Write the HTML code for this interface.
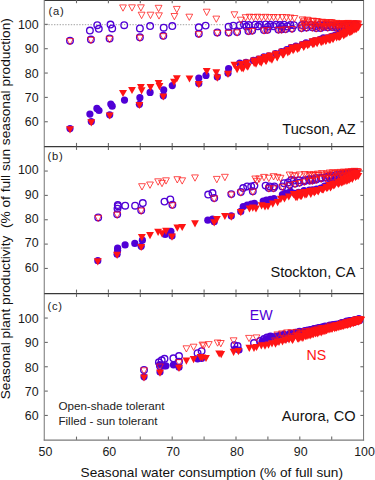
<!DOCTYPE html><html><head><meta charset="utf-8"><style>html,body{margin:0;padding:0;background:#fff;overflow:hidden}svg{display:block}text{font-family:"Liberation Sans",sans-serif}</style></head><body>
<svg width="375" height="480" viewBox="0 0 375 480">
<line x1="44.25" y1="0" x2="44.25" y2="440.5" stroke="#7a7a7a" stroke-width="1.05"/>
<line x1="363.55" y1="0" x2="363.55" y2="440.6" stroke="#7a7a7a" stroke-width="1.05"/>
<line x1="43.75" y1="440.1" x2="364.1" y2="440.1" stroke="#7a7a7a" stroke-width="1.05"/>
<line x1="44.6" y1="0.4" x2="363.6" y2="0.4" stroke="#3a3a3a" stroke-width="1.2"/>
<line x1="44.25" y1="146.7" x2="363.6" y2="146.7" stroke="#383838" stroke-width="1.3"/>
<line x1="44.25" y1="293.7" x2="363.6" y2="293.7" stroke="#383838" stroke-width="1.3"/>
<line x1="45.6" y1="24.6" x2="363.6" y2="24.6" stroke="#b4b4b4" stroke-width="1.1" stroke-dasharray="1.4,1.4"/>
<line x1="44.6" y1="121.75" x2="47.800000000000004" y2="121.75" stroke="#6a6a6a" stroke-width="1.1"/>
<line x1="360.40000000000003" y1="121.75" x2="363.6" y2="121.75" stroke="#6a6a6a" stroke-width="1.1"/>
<text x="38.6" y="126.3" font-size="12.4" fill="#1a1a1a" text-anchor="end">60</text>
<line x1="44.6" y1="97.4" x2="47.800000000000004" y2="97.4" stroke="#6a6a6a" stroke-width="1.1"/>
<line x1="360.40000000000003" y1="97.4" x2="363.6" y2="97.4" stroke="#6a6a6a" stroke-width="1.1"/>
<text x="38.6" y="101.95" font-size="12.4" fill="#1a1a1a" text-anchor="end">70</text>
<line x1="44.6" y1="73.05" x2="47.800000000000004" y2="73.05" stroke="#6a6a6a" stroke-width="1.1"/>
<line x1="360.40000000000003" y1="73.05" x2="363.6" y2="73.05" stroke="#6a6a6a" stroke-width="1.1"/>
<text x="38.6" y="77.6" font-size="12.4" fill="#1a1a1a" text-anchor="end">80</text>
<line x1="44.6" y1="48.7" x2="47.800000000000004" y2="48.7" stroke="#6a6a6a" stroke-width="1.1"/>
<line x1="360.40000000000003" y1="48.7" x2="363.6" y2="48.7" stroke="#6a6a6a" stroke-width="1.1"/>
<text x="38.6" y="53.25000000000001" font-size="12.4" fill="#1a1a1a" text-anchor="end">90</text>
<line x1="44.6" y1="24.35" x2="47.800000000000004" y2="24.35" stroke="#6a6a6a" stroke-width="1.1"/>
<line x1="360.40000000000003" y1="24.35" x2="363.6" y2="24.35" stroke="#6a6a6a" stroke-width="1.1"/>
<text x="38.6" y="28.900000000000002" font-size="12.4" fill="#1a1a1a" text-anchor="end">100</text>
<line x1="76.5" y1="146.1" x2="76.5" y2="142.9" stroke="#6a6a6a" stroke-width="1.1"/>
<line x1="76.5" y1="0.0" x2="76.5" y2="3.2" stroke="#6a6a6a" stroke-width="1.1"/>
<line x1="108.4" y1="146.1" x2="108.4" y2="142.9" stroke="#6a6a6a" stroke-width="1.1"/>
<line x1="108.4" y1="0.0" x2="108.4" y2="3.2" stroke="#6a6a6a" stroke-width="1.1"/>
<line x1="140.3" y1="146.1" x2="140.3" y2="142.9" stroke="#6a6a6a" stroke-width="1.1"/>
<line x1="140.3" y1="0.0" x2="140.3" y2="3.2" stroke="#6a6a6a" stroke-width="1.1"/>
<line x1="172.2" y1="146.1" x2="172.2" y2="142.9" stroke="#6a6a6a" stroke-width="1.1"/>
<line x1="172.2" y1="0.0" x2="172.2" y2="3.2" stroke="#6a6a6a" stroke-width="1.1"/>
<line x1="204.1" y1="146.1" x2="204.1" y2="142.9" stroke="#6a6a6a" stroke-width="1.1"/>
<line x1="204.1" y1="0.0" x2="204.1" y2="3.2" stroke="#6a6a6a" stroke-width="1.1"/>
<line x1="236.0" y1="146.1" x2="236.0" y2="142.9" stroke="#6a6a6a" stroke-width="1.1"/>
<line x1="236.0" y1="0.0" x2="236.0" y2="3.2" stroke="#6a6a6a" stroke-width="1.1"/>
<line x1="267.90000000000003" y1="146.1" x2="267.90000000000003" y2="142.9" stroke="#6a6a6a" stroke-width="1.1"/>
<line x1="267.90000000000003" y1="0.0" x2="267.90000000000003" y2="3.2" stroke="#6a6a6a" stroke-width="1.1"/>
<line x1="299.8" y1="146.1" x2="299.8" y2="142.9" stroke="#6a6a6a" stroke-width="1.1"/>
<line x1="299.8" y1="0.0" x2="299.8" y2="3.2" stroke="#6a6a6a" stroke-width="1.1"/>
<line x1="331.70000000000005" y1="146.1" x2="331.70000000000005" y2="142.9" stroke="#6a6a6a" stroke-width="1.1"/>
<line x1="331.70000000000005" y1="0.0" x2="331.70000000000005" y2="3.2" stroke="#6a6a6a" stroke-width="1.1"/>
<line x1="44.6" y1="268.45" x2="47.800000000000004" y2="268.45" stroke="#6a6a6a" stroke-width="1.1"/>
<line x1="360.40000000000003" y1="268.45" x2="363.6" y2="268.45" stroke="#6a6a6a" stroke-width="1.1"/>
<text x="38.6" y="271.79999999999995" font-size="12.4" fill="#1a1a1a" text-anchor="end">60</text>
<line x1="44.6" y1="244.1" x2="47.800000000000004" y2="244.1" stroke="#6a6a6a" stroke-width="1.1"/>
<line x1="360.40000000000003" y1="244.1" x2="363.6" y2="244.1" stroke="#6a6a6a" stroke-width="1.1"/>
<text x="38.6" y="247.45" font-size="12.4" fill="#1a1a1a" text-anchor="end">70</text>
<line x1="44.6" y1="219.75" x2="47.800000000000004" y2="219.75" stroke="#6a6a6a" stroke-width="1.1"/>
<line x1="360.40000000000003" y1="219.75" x2="363.6" y2="219.75" stroke="#6a6a6a" stroke-width="1.1"/>
<text x="38.6" y="223.1" font-size="12.4" fill="#1a1a1a" text-anchor="end">80</text>
<line x1="44.6" y1="195.39999999999998" x2="47.800000000000004" y2="195.39999999999998" stroke="#6a6a6a" stroke-width="1.1"/>
<line x1="360.40000000000003" y1="195.39999999999998" x2="363.6" y2="195.39999999999998" stroke="#6a6a6a" stroke-width="1.1"/>
<text x="38.6" y="198.74999999999997" font-size="12.4" fill="#1a1a1a" text-anchor="end">90</text>
<line x1="44.6" y1="171.04999999999998" x2="47.800000000000004" y2="171.04999999999998" stroke="#6a6a6a" stroke-width="1.1"/>
<line x1="360.40000000000003" y1="171.04999999999998" x2="363.6" y2="171.04999999999998" stroke="#6a6a6a" stroke-width="1.1"/>
<text x="38.6" y="174.39999999999998" font-size="12.4" fill="#1a1a1a" text-anchor="end">100</text>
<line x1="76.5" y1="292.79999999999995" x2="76.5" y2="289.59999999999997" stroke="#6a6a6a" stroke-width="1.1"/>
<line x1="76.5" y1="146.7" x2="76.5" y2="149.89999999999998" stroke="#6a6a6a" stroke-width="1.1"/>
<line x1="108.4" y1="292.79999999999995" x2="108.4" y2="289.59999999999997" stroke="#6a6a6a" stroke-width="1.1"/>
<line x1="108.4" y1="146.7" x2="108.4" y2="149.89999999999998" stroke="#6a6a6a" stroke-width="1.1"/>
<line x1="140.3" y1="292.79999999999995" x2="140.3" y2="289.59999999999997" stroke="#6a6a6a" stroke-width="1.1"/>
<line x1="140.3" y1="146.7" x2="140.3" y2="149.89999999999998" stroke="#6a6a6a" stroke-width="1.1"/>
<line x1="172.2" y1="292.79999999999995" x2="172.2" y2="289.59999999999997" stroke="#6a6a6a" stroke-width="1.1"/>
<line x1="172.2" y1="146.7" x2="172.2" y2="149.89999999999998" stroke="#6a6a6a" stroke-width="1.1"/>
<line x1="204.1" y1="292.79999999999995" x2="204.1" y2="289.59999999999997" stroke="#6a6a6a" stroke-width="1.1"/>
<line x1="204.1" y1="146.7" x2="204.1" y2="149.89999999999998" stroke="#6a6a6a" stroke-width="1.1"/>
<line x1="236.0" y1="292.79999999999995" x2="236.0" y2="289.59999999999997" stroke="#6a6a6a" stroke-width="1.1"/>
<line x1="236.0" y1="146.7" x2="236.0" y2="149.89999999999998" stroke="#6a6a6a" stroke-width="1.1"/>
<line x1="267.90000000000003" y1="292.79999999999995" x2="267.90000000000003" y2="289.59999999999997" stroke="#6a6a6a" stroke-width="1.1"/>
<line x1="267.90000000000003" y1="146.7" x2="267.90000000000003" y2="149.89999999999998" stroke="#6a6a6a" stroke-width="1.1"/>
<line x1="299.8" y1="292.79999999999995" x2="299.8" y2="289.59999999999997" stroke="#6a6a6a" stroke-width="1.1"/>
<line x1="299.8" y1="146.7" x2="299.8" y2="149.89999999999998" stroke="#6a6a6a" stroke-width="1.1"/>
<line x1="331.70000000000005" y1="292.79999999999995" x2="331.70000000000005" y2="289.59999999999997" stroke="#6a6a6a" stroke-width="1.1"/>
<line x1="331.70000000000005" y1="146.7" x2="331.70000000000005" y2="149.89999999999998" stroke="#6a6a6a" stroke-width="1.1"/>
<line x1="44.6" y1="415.45" x2="47.800000000000004" y2="415.45" stroke="#6a6a6a" stroke-width="1.1"/>
<line x1="360.40000000000003" y1="415.45" x2="363.6" y2="415.45" stroke="#6a6a6a" stroke-width="1.1"/>
<text x="38.6" y="420.29999999999995" font-size="12.4" fill="#1a1a1a" text-anchor="end">60</text>
<line x1="44.6" y1="391.1" x2="47.800000000000004" y2="391.1" stroke="#6a6a6a" stroke-width="1.1"/>
<line x1="360.40000000000003" y1="391.1" x2="363.6" y2="391.1" stroke="#6a6a6a" stroke-width="1.1"/>
<text x="38.6" y="395.95" font-size="12.4" fill="#1a1a1a" text-anchor="end">70</text>
<line x1="44.6" y1="366.75" x2="47.800000000000004" y2="366.75" stroke="#6a6a6a" stroke-width="1.1"/>
<line x1="360.40000000000003" y1="366.75" x2="363.6" y2="366.75" stroke="#6a6a6a" stroke-width="1.1"/>
<text x="38.6" y="371.59999999999997" font-size="12.4" fill="#1a1a1a" text-anchor="end">80</text>
<line x1="44.6" y1="342.4" x2="47.800000000000004" y2="342.4" stroke="#6a6a6a" stroke-width="1.1"/>
<line x1="360.40000000000003" y1="342.4" x2="363.6" y2="342.4" stroke="#6a6a6a" stroke-width="1.1"/>
<text x="38.6" y="347.24999999999994" font-size="12.4" fill="#1a1a1a" text-anchor="end">90</text>
<line x1="44.6" y1="318.05" x2="47.800000000000004" y2="318.05" stroke="#6a6a6a" stroke-width="1.1"/>
<line x1="360.40000000000003" y1="318.05" x2="363.6" y2="318.05" stroke="#6a6a6a" stroke-width="1.1"/>
<text x="38.6" y="322.9" font-size="12.4" fill="#1a1a1a" text-anchor="end">100</text>
<line x1="76.5" y1="439.79999999999995" x2="76.5" y2="436.59999999999997" stroke="#6a6a6a" stroke-width="1.1"/>
<line x1="76.5" y1="293.7" x2="76.5" y2="296.9" stroke="#6a6a6a" stroke-width="1.1"/>
<line x1="108.4" y1="439.79999999999995" x2="108.4" y2="436.59999999999997" stroke="#6a6a6a" stroke-width="1.1"/>
<line x1="108.4" y1="293.7" x2="108.4" y2="296.9" stroke="#6a6a6a" stroke-width="1.1"/>
<line x1="140.3" y1="439.79999999999995" x2="140.3" y2="436.59999999999997" stroke="#6a6a6a" stroke-width="1.1"/>
<line x1="140.3" y1="293.7" x2="140.3" y2="296.9" stroke="#6a6a6a" stroke-width="1.1"/>
<line x1="172.2" y1="439.79999999999995" x2="172.2" y2="436.59999999999997" stroke="#6a6a6a" stroke-width="1.1"/>
<line x1="172.2" y1="293.7" x2="172.2" y2="296.9" stroke="#6a6a6a" stroke-width="1.1"/>
<line x1="204.1" y1="439.79999999999995" x2="204.1" y2="436.59999999999997" stroke="#6a6a6a" stroke-width="1.1"/>
<line x1="204.1" y1="293.7" x2="204.1" y2="296.9" stroke="#6a6a6a" stroke-width="1.1"/>
<line x1="236.0" y1="439.79999999999995" x2="236.0" y2="436.59999999999997" stroke="#6a6a6a" stroke-width="1.1"/>
<line x1="236.0" y1="293.7" x2="236.0" y2="296.9" stroke="#6a6a6a" stroke-width="1.1"/>
<line x1="267.90000000000003" y1="439.79999999999995" x2="267.90000000000003" y2="436.59999999999997" stroke="#6a6a6a" stroke-width="1.1"/>
<line x1="267.90000000000003" y1="293.7" x2="267.90000000000003" y2="296.9" stroke="#6a6a6a" stroke-width="1.1"/>
<line x1="299.8" y1="439.79999999999995" x2="299.8" y2="436.59999999999997" stroke="#6a6a6a" stroke-width="1.1"/>
<line x1="299.8" y1="293.7" x2="299.8" y2="296.9" stroke="#6a6a6a" stroke-width="1.1"/>
<line x1="331.70000000000005" y1="439.79999999999995" x2="331.70000000000005" y2="436.59999999999997" stroke="#6a6a6a" stroke-width="1.1"/>
<line x1="331.70000000000005" y1="293.7" x2="331.70000000000005" y2="296.9" stroke="#6a6a6a" stroke-width="1.1"/>
<text x="45.5" y="455.5" font-size="12.4" fill="#1a1a1a" text-anchor="middle">50</text>
<text x="109.30000000000001" y="455.5" font-size="12.4" fill="#1a1a1a" text-anchor="middle">60</text>
<text x="173.1" y="455.5" font-size="12.4" fill="#1a1a1a" text-anchor="middle">70</text>
<text x="236.9" y="455.5" font-size="12.4" fill="#1a1a1a" text-anchor="middle">80</text>
<text x="300.7" y="455.5" font-size="12.4" fill="#1a1a1a" text-anchor="middle">90</text>
<text x="364.5" y="455.5" font-size="12.4" fill="#1a1a1a" text-anchor="middle">100</text>
<text x="48.6" y="14.6" font-size="11.2" letter-spacing="0.7" fill="#222">(a)</text>
<text x="47.6" y="160.3" font-size="11.2" letter-spacing="0.7" fill="#222">(b)</text>
<text x="47.6" y="310.1" font-size="11.2" letter-spacing="0.7" fill="#222">(c)</text>
<text x="355.6" y="134.2" font-size="14.6" fill="#111" text-anchor="end">Tucson, AZ</text>
<text x="355.6" y="277.4" font-size="14.6" fill="#111" text-anchor="end">Stockton, CA</text>
<text x="355.6" y="421.1" font-size="14.6" fill="#111" text-anchor="end">Aurora, CO</text>
<text x="58.4" y="410.4" font-size="11.65" fill="#222">Open-shade tolerant</text>
<text x="58.4" y="424.6" font-size="11.65" fill="#222">Filled - sun tolerant</text>
<text x="249.7" y="320.2" font-size="14.2" fill="#5000d6">EW</text>
<text x="306.4" y="360.2" font-size="14.2" fill="#ff1414">NS</text>
<text x="80.6" y="477.2" font-size="13.65" fill="#111">Seasonal water consumption (% of full sun)</text>
<text transform="translate(10.1,399.3) rotate(-90)" font-size="13.7" fill="#111" xml:space="preserve">Seasonal plant productivity  (% of full sun seasonal production)</text>
<g><circle cx="89.9" cy="30.5" r="3.3" fill="none" stroke="#5000d6" stroke-width="1.35"/><circle cx="97.3" cy="25.2" r="3.3" fill="none" stroke="#5000d6" stroke-width="1.35"/><circle cx="98.8" cy="28.8" r="3.3" fill="none" stroke="#5000d6" stroke-width="1.35"/><circle cx="110.5" cy="24.5" r="3.3" fill="none" stroke="#5000d6" stroke-width="1.35"/><circle cx="112.2" cy="28.4" r="3.3" fill="none" stroke="#5000d6" stroke-width="1.35"/><circle cx="124.2" cy="25.2" r="3.3" fill="none" stroke="#5000d6" stroke-width="1.35"/><circle cx="139.9" cy="28.4" r="3.3" fill="none" stroke="#5000d6" stroke-width="1.35"/><circle cx="150.1" cy="26.0" r="3.3" fill="none" stroke="#5000d6" stroke-width="1.35"/><circle cx="163.7" cy="27.7" r="3.3" fill="none" stroke="#5000d6" stroke-width="1.35"/><circle cx="172.3" cy="26.0" r="3.3" fill="none" stroke="#5000d6" stroke-width="1.35"/><circle cx="198.8" cy="27.3" r="3.3" fill="none" stroke="#5000d6" stroke-width="1.35"/><circle cx="205.6" cy="25.6" r="3.3" fill="none" stroke="#5000d6" stroke-width="1.35"/><circle cx="228.6" cy="26.7" r="3.3" fill="none" stroke="#5000d6" stroke-width="1.35"/><circle cx="233.3" cy="25.6" r="3.3" fill="none" stroke="#5000d6" stroke-width="1.35"/><circle cx="239.7" cy="25.2" r="3.3" fill="none" stroke="#5000d6" stroke-width="1.35"/><circle cx="244.0" cy="24.6" r="3.3" fill="none" stroke="#5000d6" stroke-width="1.35"/><circle cx="248.8" cy="25.0" r="3.3" fill="none" stroke="#5000d6" stroke-width="1.35"/><circle cx="255.2" cy="24.6" r="3.3" fill="none" stroke="#5000d6" stroke-width="1.35"/><circle cx="260.0" cy="24.8" r="3.3" fill="none" stroke="#5000d6" stroke-width="1.35"/><circle cx="265.6" cy="24.4" r="3.3" fill="none" stroke="#5000d6" stroke-width="1.35"/><circle cx="270.4" cy="24.8" r="3.3" fill="none" stroke="#5000d6" stroke-width="1.35"/><circle cx="276.0" cy="24.6" r="3.3" fill="none" stroke="#5000d6" stroke-width="1.35"/><circle cx="280.0" cy="25.0" r="3.3" fill="none" stroke="#5000d6" stroke-width="1.35"/><circle cx="284.0" cy="24.7" r="3.3" fill="none" stroke="#5000d6" stroke-width="1.35"/><circle cx="290.4" cy="25.0" r="3.3" fill="none" stroke="#5000d6" stroke-width="1.35"/><circle cx="294.0" cy="25.2" r="3.3" fill="none" stroke="#5000d6" stroke-width="1.35"/><circle cx="246.5" cy="26.5" r="3.3" fill="none" stroke="#5000d6" stroke-width="1.35"/><circle cx="258.0" cy="26.3" r="3.3" fill="none" stroke="#5000d6" stroke-width="1.35"/><circle cx="268.0" cy="26.6" r="3.3" fill="none" stroke="#5000d6" stroke-width="1.35"/><circle cx="273.5" cy="26.2" r="3.3" fill="none" stroke="#5000d6" stroke-width="1.35"/><circle cx="282.0" cy="26.5" r="3.3" fill="none" stroke="#5000d6" stroke-width="1.35"/><circle cx="287.5" cy="26.4" r="3.3" fill="none" stroke="#5000d6" stroke-width="1.35"/><circle cx="301.9" cy="25.0" r="3.3" fill="none" stroke="#5000d6" stroke-width="1.35"/><circle cx="305.8" cy="24.9" r="3.3" fill="none" stroke="#5000d6" stroke-width="1.35"/><circle cx="311.1" cy="25.0" r="3.3" fill="none" stroke="#5000d6" stroke-width="1.35"/><circle cx="315.6" cy="26.1" r="3.3" fill="none" stroke="#5000d6" stroke-width="1.35"/><circle cx="319.5" cy="25.0" r="3.3" fill="none" stroke="#5000d6" stroke-width="1.35"/><circle cx="324.1" cy="25.0" r="3.3" fill="none" stroke="#5000d6" stroke-width="1.35"/><circle cx="327.3" cy="25.2" r="3.3" fill="none" stroke="#5000d6" stroke-width="1.35"/><circle cx="330.9" cy="25.4" r="3.3" fill="none" stroke="#5000d6" stroke-width="1.35"/><circle cx="335.5" cy="25.5" r="3.3" fill="none" stroke="#5000d6" stroke-width="1.35"/><circle cx="338.6" cy="25.0" r="3.3" fill="none" stroke="#5000d6" stroke-width="1.35"/><circle cx="342.1" cy="25.4" r="3.3" fill="none" stroke="#5000d6" stroke-width="1.35"/><circle cx="344.8" cy="25.1" r="3.3" fill="none" stroke="#5000d6" stroke-width="1.35"/><circle cx="347.2" cy="24.8" r="3.3" fill="none" stroke="#5000d6" stroke-width="1.35"/><circle cx="350.9" cy="25.6" r="3.3" fill="none" stroke="#5000d6" stroke-width="1.35"/><circle cx="353.0" cy="24.7" r="3.3" fill="none" stroke="#5000d6" stroke-width="1.35"/><circle cx="355.2" cy="24.3" r="3.3" fill="none" stroke="#5000d6" stroke-width="1.35"/><circle cx="70.0" cy="40.7" r="3.3" fill="none" stroke="#5000d6" stroke-width="1.35"/><circle cx="90.9" cy="39.5" r="3.3" fill="none" stroke="#5000d6" stroke-width="1.35"/><circle cx="109.6" cy="38.4" r="3.3" fill="none" stroke="#5000d6" stroke-width="1.35"/><circle cx="139.9" cy="37.3" r="3.3" fill="none" stroke="#5000d6" stroke-width="1.35"/><circle cx="163.3" cy="35.8" r="3.3" fill="none" stroke="#5000d6" stroke-width="1.35"/><circle cx="198.8" cy="33.7" r="3.3" fill="none" stroke="#5000d6" stroke-width="1.35"/><circle cx="217.3" cy="32.4" r="3.3" fill="none" stroke="#5000d6" stroke-width="1.35"/><circle cx="228.6" cy="32.4" r="3.3" fill="none" stroke="#5000d6" stroke-width="1.35"/><circle cx="237.1" cy="32.0" r="3.3" fill="none" stroke="#5000d6" stroke-width="1.35"/><circle cx="248.4" cy="30.9" r="3.3" fill="none" stroke="#5000d6" stroke-width="1.35"/><circle cx="252.2" cy="30.6" r="3.3" fill="none" stroke="#5000d6" stroke-width="1.35"/><circle cx="264.0" cy="30.0" r="3.3" fill="none" stroke="#5000d6" stroke-width="1.35"/><circle cx="267.4" cy="29.8" r="3.3" fill="none" stroke="#5000d6" stroke-width="1.35"/><circle cx="278.4" cy="29.5" r="3.3" fill="none" stroke="#5000d6" stroke-width="1.35"/><circle cx="281.6" cy="29.3" r="3.3" fill="none" stroke="#5000d6" stroke-width="1.35"/><circle cx="285.6" cy="29.0" r="3.3" fill="none" stroke="#5000d6" stroke-width="1.35"/><circle cx="292.0" cy="28.6" r="3.3" fill="none" stroke="#5000d6" stroke-width="1.35"/><circle cx="301.5" cy="28.1" r="3.3" fill="none" stroke="#5000d6" stroke-width="1.35"/><circle cx="306.5" cy="27.4" r="3.3" fill="none" stroke="#5000d6" stroke-width="1.35"/><circle cx="312.4" cy="27.3" r="3.3" fill="none" stroke="#5000d6" stroke-width="1.35"/><circle cx="316.2" cy="28.0" r="3.3" fill="none" stroke="#5000d6" stroke-width="1.35"/><circle cx="320.7" cy="27.9" r="3.3" fill="none" stroke="#5000d6" stroke-width="1.35"/><circle cx="323.7" cy="26.7" r="3.3" fill="none" stroke="#5000d6" stroke-width="1.35"/><circle cx="327.7" cy="27.2" r="3.3" fill="none" stroke="#5000d6" stroke-width="1.35"/><circle cx="332.3" cy="26.9" r="3.3" fill="none" stroke="#5000d6" stroke-width="1.35"/><circle cx="336.0" cy="27.3" r="3.3" fill="none" stroke="#5000d6" stroke-width="1.35"/><circle cx="339.4" cy="27.2" r="3.3" fill="none" stroke="#5000d6" stroke-width="1.35"/><circle cx="341.7" cy="27.0" r="3.3" fill="none" stroke="#5000d6" stroke-width="1.35"/><circle cx="344.3" cy="26.7" r="3.3" fill="none" stroke="#5000d6" stroke-width="1.35"/><circle cx="348.4" cy="25.5" r="3.3" fill="none" stroke="#5000d6" stroke-width="1.35"/><circle cx="350.8" cy="26.0" r="3.3" fill="none" stroke="#5000d6" stroke-width="1.35"/><circle cx="353.7" cy="26.0" r="3.3" fill="none" stroke="#5000d6" stroke-width="1.35"/><circle cx="356.1" cy="25.2" r="3.3" fill="none" stroke="#5000d6" stroke-width="1.35"/><circle cx="89.9" cy="114.1" r="3.6" fill="#5000d6"/><circle cx="96.9" cy="108.4" r="3.6" fill="#5000d6"/><circle cx="99.0" cy="110.5" r="3.6" fill="#5000d6"/><circle cx="110.8" cy="104.1" r="3.6" fill="#5000d6"/><circle cx="112.2" cy="106.2" r="3.6" fill="#5000d6"/><circle cx="124.5" cy="100.1" r="3.6" fill="#5000d6"/><circle cx="139.9" cy="97.7" r="3.6" fill="#5000d6"/><circle cx="150.1" cy="92.4" r="3.6" fill="#5000d6"/><circle cx="163.7" cy="89.9" r="3.6" fill="#5000d6"/><circle cx="172.3" cy="85.6" r="3.6" fill="#5000d6"/><circle cx="198.8" cy="78.1" r="3.6" fill="#5000d6"/><circle cx="206.0" cy="75.4" r="3.6" fill="#5000d6"/><circle cx="228.6" cy="68.5" r="3.6" fill="#5000d6"/><circle cx="239.7" cy="63.2" r="3.6" fill="#5000d6"/><circle cx="240.5" cy="64.2" r="3.6" fill="#5000d6"/><circle cx="246.0" cy="62.4" r="3.6" fill="#5000d6"/><circle cx="253.4" cy="60.4" r="3.6" fill="#5000d6"/><circle cx="258.5" cy="59.0" r="3.6" fill="#5000d6"/><circle cx="263.8" cy="56.9" r="3.6" fill="#5000d6"/><circle cx="268.8" cy="55.8" r="3.6" fill="#5000d6"/><circle cx="275.5" cy="53.6" r="3.6" fill="#5000d6"/><circle cx="281.5" cy="51.6" r="3.6" fill="#5000d6"/><circle cx="286.7" cy="49.7" r="3.6" fill="#5000d6"/><circle cx="291.0" cy="47.7" r="3.6" fill="#5000d6"/><circle cx="295.9" cy="46.0" r="3.6" fill="#5000d6"/><circle cx="302.2" cy="44.5" r="3.6" fill="#5000d6"/><circle cx="306.0" cy="42.9" r="3.6" fill="#5000d6"/><circle cx="311.7" cy="41.9" r="3.6" fill="#5000d6"/><circle cx="314.9" cy="40.9" r="3.6" fill="#5000d6"/><circle cx="320.3" cy="39.3" r="3.6" fill="#5000d6"/><circle cx="323.4" cy="37.9" r="3.6" fill="#5000d6"/><circle cx="327.6" cy="37.8" r="3.6" fill="#5000d6"/><circle cx="331.7" cy="36.4" r="3.6" fill="#5000d6"/><circle cx="335.2" cy="35.2" r="3.6" fill="#5000d6"/><circle cx="338.3" cy="34.4" r="3.6" fill="#5000d6"/><circle cx="341.8" cy="33.5" r="3.6" fill="#5000d6"/><circle cx="344.5" cy="32.2" r="3.6" fill="#5000d6"/><circle cx="347.1" cy="30.3" r="3.6" fill="#5000d6"/><circle cx="350.3" cy="28.5" r="3.6" fill="#5000d6"/><circle cx="353.5" cy="27.4" r="3.6" fill="#5000d6"/><circle cx="355.7" cy="26.6" r="3.6" fill="#5000d6"/><circle cx="70.0" cy="128.6" r="3.6" fill="#5000d6"/><circle cx="91.3" cy="121.6" r="3.6" fill="#5000d6"/><circle cx="109.7" cy="114.8" r="3.6" fill="#5000d6"/><circle cx="139.4" cy="104.3" r="3.6" fill="#5000d6"/><circle cx="163.3" cy="95.8" r="3.6" fill="#5000d6"/><circle cx="198.8" cy="83.5" r="3.6" fill="#5000d6"/><circle cx="217.3" cy="77.0" r="3.6" fill="#5000d6"/><circle cx="228.0" cy="73.2" r="3.6" fill="#5000d6"/><path d="M119.6 4.9L126.4 4.9L123.0 11.2Z" fill="none" stroke="#ff1414" stroke-width="0.75"/><path d="M128.6 4.8L135.4 4.8L132.0 11.1Z" fill="none" stroke="#ff1414" stroke-width="0.75"/><path d="M137.5 4.8L144.3 4.8L140.9 11.1Z" fill="none" stroke="#ff1414" stroke-width="0.75"/><path d="M138.2 12.2L145.0 12.2L141.6 18.6Z" fill="none" stroke="#ff1414" stroke-width="0.75"/><path d="M147.1 12.2L153.9 12.2L150.5 18.6Z" fill="none" stroke="#ff1414" stroke-width="0.75"/><path d="M155.2 5.3L162.0 5.3L158.6 11.7Z" fill="none" stroke="#ff1414" stroke-width="0.75"/><path d="M155.6 12.8L162.4 12.8L159.0 19.1Z" fill="none" stroke="#ff1414" stroke-width="0.75"/><path d="M173.4 6.4L180.2 6.4L176.8 12.8Z" fill="none" stroke="#ff1414" stroke-width="0.75"/><path d="M171.0 13.5L177.8 13.5L174.4 19.8Z" fill="none" stroke="#ff1414" stroke-width="0.75"/><path d="M185.9 14.2L192.7 14.2L189.3 20.4Z" fill="none" stroke="#ff1414" stroke-width="0.75"/><path d="M203.3 9.2L210.1 9.2L206.7 15.6Z" fill="none" stroke="#ff1414" stroke-width="0.75"/><path d="M212.9 16.1L219.7 16.1L216.3 22.3Z" fill="none" stroke="#ff1414" stroke-width="0.75"/><path d="M231.0 11.8L237.8 11.8L234.4 18.1Z" fill="none" stroke="#ff1414" stroke-width="0.75"/><path d="M237.4 17.2L244.2 17.2L240.8 23.4Z" fill="none" stroke="#ff1414" stroke-width="0.75"/><path d="M242.2 14.7L249.0 14.7L245.6 20.9Z" fill="none" stroke="#ff1414" stroke-width="0.75"/><path d="M246.2 14.2L253.0 14.2L249.6 20.5Z" fill="none" stroke="#ff1414" stroke-width="0.75"/><path d="M250.2 14.5L257.0 14.5L253.6 20.8Z" fill="none" stroke="#ff1414" stroke-width="0.75"/><path d="M254.2 14.2L261.0 14.2L257.6 20.5Z" fill="none" stroke="#ff1414" stroke-width="0.75"/><path d="M258.2 14.7L265.0 14.7L261.6 20.9Z" fill="none" stroke="#ff1414" stroke-width="0.75"/><path d="M262.2 14.3L269.0 14.3L265.6 20.6Z" fill="none" stroke="#ff1414" stroke-width="0.75"/><path d="M266.2 14.7L273.0 14.7L269.6 20.9Z" fill="none" stroke="#ff1414" stroke-width="0.75"/><path d="M270.2 14.5L277.0 14.5L273.6 20.8Z" fill="none" stroke="#ff1414" stroke-width="0.75"/><path d="M274.2 14.7L281.0 14.7L277.6 20.9Z" fill="none" stroke="#ff1414" stroke-width="0.75"/><path d="M279.0 14.5L285.8 14.5L282.4 20.8Z" fill="none" stroke="#ff1414" stroke-width="0.75"/><path d="M283.0 14.7L289.8 14.7L286.4 21.0Z" fill="none" stroke="#ff1414" stroke-width="0.75"/><path d="M287.0 15.0L293.8 15.0L290.4 21.3Z" fill="none" stroke="#ff1414" stroke-width="0.75"/><path d="M291.0 15.5L297.8 15.5L294.4 21.8Z" fill="none" stroke="#ff1414" stroke-width="0.75"/><path d="M299.1 16.9L305.9 16.9L302.5 23.2Z" fill="none" stroke="#ff1414" stroke-width="0.75"/><path d="M301.1 18.2L307.9 18.2L304.5 24.5Z" fill="none" stroke="#ff1414" stroke-width="0.75"/><path d="M300.1 20.3L306.9 20.3L303.5 26.6Z" fill="none" stroke="#ff1414" stroke-width="0.75"/><path d="M298.8 23.9L305.6 23.9L302.2 30.2Z" fill="none" stroke="#ff1414" stroke-width="0.75"/><path d="M303.8 17.2L310.6 17.2L307.2 23.5Z" fill="none" stroke="#ff1414" stroke-width="0.75"/><path d="M305.3 18.0L312.1 18.0L308.7 24.3Z" fill="none" stroke="#ff1414" stroke-width="0.75"/><path d="M303.8 19.8L310.6 19.8L307.2 26.1Z" fill="none" stroke="#ff1414" stroke-width="0.75"/><path d="M301.5 23.3L308.3 23.3L304.9 29.6Z" fill="none" stroke="#ff1414" stroke-width="0.75"/><path d="M309.7 18.1L316.5 18.1L313.1 24.4Z" fill="none" stroke="#ff1414" stroke-width="0.75"/><path d="M310.5 18.5L317.3 18.5L313.9 24.8Z" fill="none" stroke="#ff1414" stroke-width="0.75"/><path d="M309.0 21.3L315.8 21.3L312.4 27.6Z" fill="none" stroke="#ff1414" stroke-width="0.75"/><path d="M307.5 22.8L314.3 22.8L310.9 29.1Z" fill="none" stroke="#ff1414" stroke-width="0.75"/><path d="M313.1 18.5L319.9 18.5L316.5 24.8Z" fill="none" stroke="#ff1414" stroke-width="0.75"/><path d="M314.5 18.9L321.3 18.9L317.9 25.2Z" fill="none" stroke="#ff1414" stroke-width="0.75"/><path d="M314.3 21.1L321.1 21.1L317.7 27.4Z" fill="none" stroke="#ff1414" stroke-width="0.75"/><path d="M310.7 23.4L317.5 23.4L314.1 29.7Z" fill="none" stroke="#ff1414" stroke-width="0.75"/><path d="M318.3 19.4L325.1 19.4L321.7 25.7Z" fill="none" stroke="#ff1414" stroke-width="0.75"/><path d="M319.3 19.3L326.1 19.3L322.7 25.6Z" fill="none" stroke="#ff1414" stroke-width="0.75"/><path d="M319.3 20.9L326.1 20.9L322.7 27.2Z" fill="none" stroke="#ff1414" stroke-width="0.75"/><path d="M316.4 23.7L323.2 23.7L319.8 30.0Z" fill="none" stroke="#ff1414" stroke-width="0.75"/><path d="M321.8 19.8L328.6 19.8L325.2 26.1Z" fill="none" stroke="#ff1414" stroke-width="0.75"/><path d="M323.2 20.4L330.0 20.4L326.6 26.7Z" fill="none" stroke="#ff1414" stroke-width="0.75"/><path d="M323.2 21.6L330.0 21.6L326.6 27.9Z" fill="none" stroke="#ff1414" stroke-width="0.75"/><path d="M319.1 23.7L325.9 23.7L322.5 30.0Z" fill="none" stroke="#ff1414" stroke-width="0.75"/><path d="M325.9 19.5L332.7 19.5L329.3 25.8Z" fill="none" stroke="#ff1414" stroke-width="0.75"/><path d="M327.6 19.8L334.4 19.8L331.0 26.1Z" fill="none" stroke="#ff1414" stroke-width="0.75"/><path d="M325.8 21.1L332.6 21.1L329.2 27.4Z" fill="none" stroke="#ff1414" stroke-width="0.75"/><path d="M323.0 23.7L329.8 23.7L326.4 30.0Z" fill="none" stroke="#ff1414" stroke-width="0.75"/><path d="M328.5 19.8L335.3 19.8L331.9 26.1Z" fill="none" stroke="#ff1414" stroke-width="0.75"/><path d="M330.4 20.8L337.2 20.8L333.8 27.1Z" fill="none" stroke="#ff1414" stroke-width="0.75"/><path d="M329.6 21.4L336.4 21.4L333.0 27.7Z" fill="none" stroke="#ff1414" stroke-width="0.75"/><path d="M327.6 23.5L334.4 23.5L331.0 29.8Z" fill="none" stroke="#ff1414" stroke-width="0.75"/><path d="M333.2 20.4L340.0 20.4L336.6 26.7Z" fill="none" stroke="#ff1414" stroke-width="0.75"/><path d="M335.1 21.0L341.9 21.0L338.5 27.3Z" fill="none" stroke="#ff1414" stroke-width="0.75"/><path d="M334.5 22.1L341.3 22.1L337.9 28.4Z" fill="none" stroke="#ff1414" stroke-width="0.75"/><path d="M332.5 22.5L339.3 22.5L335.9 28.8Z" fill="none" stroke="#ff1414" stroke-width="0.75"/><path d="M336.2 20.9L343.0 20.9L339.6 27.2Z" fill="none" stroke="#ff1414" stroke-width="0.75"/><path d="M337.5 21.2L344.3 21.2L340.9 27.5Z" fill="none" stroke="#ff1414" stroke-width="0.75"/><path d="M336.4 22.4L343.2 22.4L339.8 28.7Z" fill="none" stroke="#ff1414" stroke-width="0.75"/><path d="M334.2 22.9L341.0 22.9L337.6 29.2Z" fill="none" stroke="#ff1414" stroke-width="0.75"/><path d="M339.0 20.8L345.8 20.8L342.4 27.1Z" fill="none" stroke="#ff1414" stroke-width="0.75"/><path d="M340.9 20.9L347.7 20.9L344.3 27.2Z" fill="none" stroke="#ff1414" stroke-width="0.75"/><path d="M341.0 22.4L347.8 22.4L344.4 28.7Z" fill="none" stroke="#ff1414" stroke-width="0.75"/><path d="M337.2 22.3L344.0 22.3L340.6 28.6Z" fill="none" stroke="#ff1414" stroke-width="0.75"/><path d="M342.7 20.9L349.5 20.9L346.1 27.2Z" fill="none" stroke="#ff1414" stroke-width="0.75"/><path d="M343.6 20.6L350.4 20.6L347.0 26.9Z" fill="none" stroke="#ff1414" stroke-width="0.75"/><path d="M343.4 22.1L350.2 22.1L346.8 28.4Z" fill="none" stroke="#ff1414" stroke-width="0.75"/><path d="M339.8 23.1L346.6 23.1L343.2 29.4Z" fill="none" stroke="#ff1414" stroke-width="0.75"/><path d="M344.8 20.4L351.6 20.4L348.2 26.7Z" fill="none" stroke="#ff1414" stroke-width="0.75"/><path d="M346.5 20.9L353.3 20.9L349.9 27.2Z" fill="none" stroke="#ff1414" stroke-width="0.75"/><path d="M346.1 21.1L352.9 21.1L349.5 27.4Z" fill="none" stroke="#ff1414" stroke-width="0.75"/><path d="M343.3 21.5L350.1 21.5L346.7 27.8Z" fill="none" stroke="#ff1414" stroke-width="0.75"/><path d="M348.2 21.0L355.0 21.0L351.6 27.3Z" fill="none" stroke="#ff1414" stroke-width="0.75"/><path d="M350.1 21.3L356.9 21.3L353.5 27.6Z" fill="none" stroke="#ff1414" stroke-width="0.75"/><path d="M349.6 21.8L356.4 21.8L353.0 28.1Z" fill="none" stroke="#ff1414" stroke-width="0.75"/><path d="M346.5 21.9L353.3 21.9L349.9 28.2Z" fill="none" stroke="#ff1414" stroke-width="0.75"/><path d="M351.5 20.9L358.3 20.9L354.9 27.2Z" fill="none" stroke="#ff1414" stroke-width="0.75"/><path d="M352.9 21.3L359.7 21.3L356.3 27.6Z" fill="none" stroke="#ff1414" stroke-width="0.75"/><path d="M353.1 21.6L359.9 21.6L356.5 27.9Z" fill="none" stroke="#ff1414" stroke-width="0.75"/><path d="M349.1 22.7L355.9 22.7L352.5 29.0Z" fill="none" stroke="#ff1414" stroke-width="0.75"/><path d="M352.9 20.7L359.7 20.7L356.3 27.0Z" fill="none" stroke="#ff1414" stroke-width="0.75"/><path d="M354.5 20.8L361.3 20.8L357.9 27.1Z" fill="none" stroke="#ff1414" stroke-width="0.75"/><path d="M354.6 21.7L361.4 21.7L358.0 28.0Z" fill="none" stroke="#ff1414" stroke-width="0.75"/><path d="M352.0 22.4L358.8 22.4L355.4 28.7Z" fill="none" stroke="#ff1414" stroke-width="0.75"/><path d="M66.6 38.6L73.4 38.6L70.0 44.9Z" fill="none" stroke="#ff1414" stroke-width="0.75"/><path d="M87.5 37.4L94.3 37.4L90.9 43.7Z" fill="none" stroke="#ff1414" stroke-width="0.75"/><path d="M106.2 36.3L113.0 36.3L109.6 42.6Z" fill="none" stroke="#ff1414" stroke-width="0.75"/><path d="M136.5 35.2L143.3 35.2L139.9 41.5Z" fill="none" stroke="#ff1414" stroke-width="0.75"/><path d="M159.9 33.7L166.7 33.7L163.3 40.0Z" fill="none" stroke="#ff1414" stroke-width="0.75"/><path d="M195.4 31.6L202.2 31.6L198.8 37.9Z" fill="none" stroke="#ff1414" stroke-width="0.75"/><path d="M213.9 30.3L220.7 30.3L217.3 36.6Z" fill="none" stroke="#ff1414" stroke-width="0.75"/><path d="M225.2 30.3L232.0 30.3L228.6 36.6Z" fill="none" stroke="#ff1414" stroke-width="0.75"/><path d="M233.7 29.9L240.5 29.9L237.1 36.2Z" fill="none" stroke="#ff1414" stroke-width="0.75"/><path d="M245.0 28.8L251.8 28.8L248.4 35.1Z" fill="none" stroke="#ff1414" stroke-width="0.75"/><path d="M248.8 28.5L255.6 28.5L252.2 34.8Z" fill="none" stroke="#ff1414" stroke-width="0.75"/><path d="M260.6 27.9L267.4 27.9L264.0 34.2Z" fill="none" stroke="#ff1414" stroke-width="0.75"/><path d="M264.0 27.7L270.8 27.7L267.4 34.0Z" fill="none" stroke="#ff1414" stroke-width="0.75"/><path d="M275.0 27.4L281.8 27.4L278.4 33.7Z" fill="none" stroke="#ff1414" stroke-width="0.75"/><path d="M278.2 27.2L285.0 27.2L281.6 33.5Z" fill="none" stroke="#ff1414" stroke-width="0.75"/><path d="M282.2 26.9L289.0 26.9L285.6 33.2Z" fill="none" stroke="#ff1414" stroke-width="0.75"/><path d="M288.6 26.5L295.4 26.5L292.0 32.8Z" fill="none" stroke="#ff1414" stroke-width="0.75"/><path d="M298.1 26.0L304.9 26.0L301.5 32.3Z" fill="none" stroke="#ff1414" stroke-width="0.75"/><path d="M303.1 25.3L309.9 25.3L306.5 31.6Z" fill="none" stroke="#ff1414" stroke-width="0.75"/><path d="M309.0 25.2L315.8 25.2L312.4 31.5Z" fill="none" stroke="#ff1414" stroke-width="0.75"/><path d="M312.8 25.9L319.6 25.9L316.2 32.2Z" fill="none" stroke="#ff1414" stroke-width="0.75"/><path d="M317.3 25.8L324.1 25.8L320.7 32.1Z" fill="none" stroke="#ff1414" stroke-width="0.75"/><path d="M320.3 24.6L327.1 24.6L323.7 30.9Z" fill="none" stroke="#ff1414" stroke-width="0.75"/><path d="M324.3 25.1L331.1 25.1L327.7 31.4Z" fill="none" stroke="#ff1414" stroke-width="0.75"/><path d="M328.9 24.8L335.7 24.8L332.3 31.1Z" fill="none" stroke="#ff1414" stroke-width="0.75"/><path d="M332.6 25.2L339.4 25.2L336.0 31.5Z" fill="none" stroke="#ff1414" stroke-width="0.75"/><path d="M336.0 25.1L342.8 25.1L339.4 31.4Z" fill="none" stroke="#ff1414" stroke-width="0.75"/><path d="M338.3 24.9L345.1 24.9L341.7 31.2Z" fill="none" stroke="#ff1414" stroke-width="0.75"/><path d="M340.9 24.6L347.7 24.6L344.3 30.9Z" fill="none" stroke="#ff1414" stroke-width="0.75"/><path d="M345.0 23.4L351.8 23.4L348.4 29.7Z" fill="none" stroke="#ff1414" stroke-width="0.75"/><path d="M347.4 23.9L354.2 23.9L350.8 30.2Z" fill="none" stroke="#ff1414" stroke-width="0.75"/><path d="M350.3 23.9L357.1 23.9L353.7 30.2Z" fill="none" stroke="#ff1414" stroke-width="0.75"/><path d="M352.7 23.1L359.5 23.1L356.1 29.4Z" fill="none" stroke="#ff1414" stroke-width="0.75"/><path d="M119.0 89.9L127.0 89.9L123.0 97.1Z" fill="#ff1414"/><path d="M128.1 86.9L135.9 86.9L132.0 94.1Z" fill="#ff1414"/><path d="M137.0 84.1L144.8 84.1L140.9 91.3Z" fill="#ff1414"/><path d="M137.7 87.3L145.5 87.3L141.6 94.5Z" fill="#ff1414"/><path d="M146.6 84.1L154.4 84.1L150.5 91.3Z" fill="#ff1414"/><path d="M154.7 79.9L162.5 79.9L158.6 87.1Z" fill="#ff1414"/><path d="M155.6 83.1L163.4 83.1L159.5 90.3Z" fill="#ff1414"/><path d="M172.9 75.2L180.8 75.2L176.8 82.4Z" fill="#ff1414"/><path d="M170.1 78.8L177.9 78.8L174.0 86.0Z" fill="#ff1414"/><path d="M185.6 75.4L193.4 75.4L189.5 82.6Z" fill="#ff1414"/><path d="M202.8 68.1L210.6 68.1L206.7 75.3Z" fill="#ff1414"/><path d="M212.4 69.2L220.2 69.2L216.3 76.4Z" fill="#ff1414"/><path d="M230.5 61.7L238.3 61.7L234.4 68.9Z" fill="#ff1414"/><path d="M233.2 66.0L241.0 66.0L237.1 73.2Z" fill="#ff1414"/><path d="M237.5 61.1L245.4 61.1L241.4 68.3Z" fill="#ff1414"/><path d="M239.2 65.3L247.1 65.3L243.2 72.5Z" fill="#ff1414"/><path d="M242.8 59.4L250.7 59.4L246.7 66.6Z" fill="#ff1414"/><path d="M243.8 63.5L251.7 63.5L247.8 70.7Z" fill="#ff1414"/><path d="M250.3 57.6L258.2 57.6L254.2 64.8Z" fill="#ff1414"/><path d="M252.1 60.5L260.0 60.5L256.0 67.7Z" fill="#ff1414"/><path d="M256.1 55.7L264.0 55.7L260.0 62.9Z" fill="#ff1414"/><path d="M257.3 59.5L265.2 59.5L261.2 66.7Z" fill="#ff1414"/><path d="M261.2 54.1L269.1 54.1L265.1 61.3Z" fill="#ff1414"/><path d="M262.2 57.9L270.1 57.9L266.1 65.1Z" fill="#ff1414"/><path d="M266.2 52.5L274.1 52.5L270.2 59.7Z" fill="#ff1414"/><path d="M267.9 56.5L275.8 56.5L271.9 63.7Z" fill="#ff1414"/><path d="M272.0 50.7L279.9 50.7L276.0 57.9Z" fill="#ff1414"/><path d="M273.3 54.2L281.2 54.2L277.2 61.4Z" fill="#ff1414"/><path d="M278.3 48.8L286.2 48.8L282.3 56.0Z" fill="#ff1414"/><path d="M279.6 51.4L287.5 51.4L283.5 58.6Z" fill="#ff1414"/><path d="M284.1 47.1L292.0 47.1L288.0 54.3Z" fill="#ff1414"/><path d="M285.7 48.0L293.6 48.0L289.6 55.2Z" fill="#ff1414"/><path d="M288.0 44.6L295.9 44.6L291.9 51.8Z" fill="#ff1414"/><path d="M290.0 45.9L297.9 45.9L294.0 53.1Z" fill="#ff1414"/><path d="M293.3 43.6L301.2 43.6L297.2 50.8Z" fill="#ff1414"/><path d="M295.0 45.1L302.9 45.1L298.9 52.3Z" fill="#ff1414"/><path d="M299.0 41.5L306.9 41.5L302.9 48.7Z" fill="#ff1414"/><path d="M300.5 42.5L308.4 42.5L304.5 49.7Z" fill="#ff1414"/><path d="M302.9 40.6L310.8 40.6L306.9 47.8Z" fill="#ff1414"/><path d="M304.9 41.4L312.8 41.4L308.9 48.6Z" fill="#ff1414"/><path d="M308.6 38.3L316.5 38.3L312.5 45.5Z" fill="#ff1414"/><path d="M309.9 40.9L317.8 40.9L313.9 48.1Z" fill="#ff1414"/><path d="M312.1 37.3L320.0 37.3L316.1 44.5Z" fill="#ff1414"/><path d="M313.2 39.2L321.1 39.2L317.1 46.4Z" fill="#ff1414"/><path d="M316.8 36.6L324.7 36.6L320.7 43.8Z" fill="#ff1414"/><path d="M319.0 38.4L326.9 38.4L322.9 45.6Z" fill="#ff1414"/><path d="M321.4 35.6L329.3 35.6L325.3 42.8Z" fill="#ff1414"/><path d="M322.2 37.2L330.1 37.2L326.1 44.4Z" fill="#ff1414"/><path d="M324.7 34.4L332.6 34.4L328.6 41.6Z" fill="#ff1414"/><path d="M326.3 36.5L334.2 36.5L330.2 43.7Z" fill="#ff1414"/><path d="M328.2 33.4L336.1 33.4L332.1 40.6Z" fill="#ff1414"/><path d="M329.7 34.8L337.6 34.8L333.6 42.0Z" fill="#ff1414"/><path d="M332.7 32.7L340.6 32.7L336.7 39.9Z" fill="#ff1414"/><path d="M334.4 33.6L342.3 33.6L338.4 40.8Z" fill="#ff1414"/><path d="M336.0 31.8L343.9 31.8L339.9 39.0Z" fill="#ff1414"/><path d="M336.5 33.1L344.4 33.1L340.5 40.3Z" fill="#ff1414"/><path d="M338.5 30.3L346.4 30.3L342.5 37.5Z" fill="#ff1414"/><path d="M340.2 31.3L348.1 31.3L344.1 38.5Z" fill="#ff1414"/><path d="M341.2 29.1L349.1 29.1L345.2 36.3Z" fill="#ff1414"/><path d="M343.0 30.1L350.9 30.1L346.9 37.3Z" fill="#ff1414"/><path d="M344.4 26.8L352.3 26.8L348.3 34.0Z" fill="#ff1414"/><path d="M346.2 28.8L354.1 28.8L350.2 36.0Z" fill="#ff1414"/><path d="M347.3 25.4L355.2 25.4L351.2 32.6Z" fill="#ff1414"/><path d="M348.7 27.3L356.6 27.3L352.7 34.5Z" fill="#ff1414"/><path d="M350.5 24.2L358.4 24.2L354.5 31.4Z" fill="#ff1414"/><path d="M351.6 25.4L359.5 25.4L355.6 32.6Z" fill="#ff1414"/><path d="M352.5 23.2L360.4 23.2L356.5 30.4Z" fill="#ff1414"/><path d="M354.5 24.1L362.4 24.1L358.5 31.3Z" fill="#ff1414"/><path d="M66.0 126.2L74.0 126.2L70.0 133.4Z" fill="#ff1414"/><path d="M87.3 119.2L95.2 119.2L91.3 126.4Z" fill="#ff1414"/><path d="M105.8 112.4L113.7 112.4L109.7 119.6Z" fill="#ff1414"/><path d="M135.5 101.9L143.3 101.9L139.4 109.1Z" fill="#ff1414"/><path d="M159.4 93.4L167.2 93.4L163.3 100.6Z" fill="#ff1414"/><path d="M194.9 81.1L202.8 81.1L198.8 88.3Z" fill="#ff1414"/><path d="M213.4 74.6L221.2 74.6L217.3 81.8Z" fill="#ff1414"/><path d="M224.1 70.8L231.9 70.8L228.0 78.0Z" fill="#ff1414"/><path d="M237.6 64.7L245.5 64.7L241.6 71.9Z" fill="#ff1414"/><path d="M243.0 62.8L250.9 62.8L246.9 70.0Z" fill="#ff1414"/><path d="M250.2 59.8L258.1 59.8L254.2 67.0Z" fill="#ff1414"/><path d="M255.7 58.3L263.6 58.3L259.7 65.5Z" fill="#ff1414"/><path d="M261.7 57.4L269.6 57.4L265.6 64.6Z" fill="#ff1414"/><path d="M266.2 55.6L274.1 55.6L270.1 62.8Z" fill="#ff1414"/><path d="M273.1 53.6L281.0 53.6L277.1 60.8Z" fill="#ff1414"/><path d="M278.8 51.2L286.7 51.2L282.7 58.4Z" fill="#ff1414"/><path d="M283.9 49.3L291.8 49.3L287.8 56.5Z" fill="#ff1414"/><path d="M289.1 47.1L297.0 47.1L293.1 54.3Z" fill="#ff1414"/><path d="M293.5 45.9L301.4 45.9L297.4 53.1Z" fill="#ff1414"/><path d="M299.7 43.8L307.6 43.8L303.7 51.0Z" fill="#ff1414"/><path d="M303.7 42.0L311.6 42.0L307.6 49.2Z" fill="#ff1414"/><path d="M308.7 40.9L316.6 40.9L312.6 48.1Z" fill="#ff1414"/><path d="M313.1 40.0L321.0 40.0L317.1 47.2Z" fill="#ff1414"/><path d="M317.2 39.0L325.1 39.0L321.2 46.2Z" fill="#ff1414"/><path d="M321.8 37.9L329.7 37.9L325.7 45.1Z" fill="#ff1414"/><path d="M325.2 36.7L333.1 36.7L329.2 43.9Z" fill="#ff1414"/><path d="M329.0 36.0L336.9 36.0L333.0 43.2Z" fill="#ff1414"/><path d="M332.7 34.4L340.6 34.4L336.6 41.6Z" fill="#ff1414"/><path d="M335.6 33.7L343.5 33.7L339.5 40.9Z" fill="#ff1414"/><path d="M339.7 32.2L347.6 32.2L343.7 39.4Z" fill="#ff1414"/><path d="M341.8 30.7L349.7 30.7L345.8 37.9Z" fill="#ff1414"/><path d="M345.4 29.1L353.3 29.1L349.4 36.3Z" fill="#ff1414"/><path d="M347.7 28.3L355.6 28.3L351.7 35.5Z" fill="#ff1414"/><path d="M350.8 26.4L358.7 26.4L354.8 33.6Z" fill="#ff1414"/><path d="M352.6 25.8L360.5 25.8L356.5 33.0Z" fill="#ff1414"/></g>
<g><circle cx="118.0" cy="206.2" r="3.3" fill="none" stroke="#5000d6" stroke-width="1.35"/><circle cx="117.8" cy="205.0" r="3.3" fill="none" stroke="#5000d6" stroke-width="1.35"/><circle cx="117.5" cy="208.6" r="3.3" fill="none" stroke="#5000d6" stroke-width="1.35"/><circle cx="125.2" cy="205.7" r="3.3" fill="none" stroke="#5000d6" stroke-width="1.35"/><circle cx="135.1" cy="205.7" r="3.3" fill="none" stroke="#5000d6" stroke-width="1.35"/><circle cx="142.8" cy="203.0" r="3.3" fill="none" stroke="#5000d6" stroke-width="1.35"/><circle cx="164.5" cy="201.6" r="3.3" fill="none" stroke="#5000d6" stroke-width="1.35"/><circle cx="170.3" cy="199.4" r="3.3" fill="none" stroke="#5000d6" stroke-width="1.35"/><circle cx="208.2" cy="194.5" r="3.3" fill="none" stroke="#5000d6" stroke-width="1.35"/><circle cx="212.5" cy="193.0" r="3.3" fill="none" stroke="#5000d6" stroke-width="1.35"/><circle cx="243.2" cy="188.0" r="3.3" fill="none" stroke="#5000d6" stroke-width="1.35"/><circle cx="247.2" cy="186.4" r="3.3" fill="none" stroke="#5000d6" stroke-width="1.35"/><circle cx="251.2" cy="186.4" r="3.3" fill="none" stroke="#5000d6" stroke-width="1.35"/><circle cx="254.4" cy="185.6" r="3.3" fill="none" stroke="#5000d6" stroke-width="1.35"/><circle cx="265.6" cy="185.6" r="3.3" fill="none" stroke="#5000d6" stroke-width="1.35"/><circle cx="269.6" cy="186.4" r="3.3" fill="none" stroke="#5000d6" stroke-width="1.35"/><circle cx="274.4" cy="186.4" r="3.3" fill="none" stroke="#5000d6" stroke-width="1.35"/><circle cx="284.0" cy="183.2" r="3.3" fill="none" stroke="#5000d6" stroke-width="1.35"/><circle cx="288.0" cy="182.4" r="3.3" fill="none" stroke="#5000d6" stroke-width="1.35"/><circle cx="291.2" cy="180.0" r="3.3" fill="none" stroke="#5000d6" stroke-width="1.35"/><circle cx="293.9" cy="180.5" r="3.3" fill="none" stroke="#5000d6" stroke-width="1.35"/><circle cx="298.8" cy="180.3" r="3.3" fill="none" stroke="#5000d6" stroke-width="1.35"/><circle cx="304.2" cy="180.2" r="3.3" fill="none" stroke="#5000d6" stroke-width="1.35"/><circle cx="309.1" cy="179.3" r="3.3" fill="none" stroke="#5000d6" stroke-width="1.35"/><circle cx="312.0" cy="179.3" r="3.3" fill="none" stroke="#5000d6" stroke-width="1.35"/><circle cx="316.2" cy="178.0" r="3.3" fill="none" stroke="#5000d6" stroke-width="1.35"/><circle cx="320.8" cy="177.6" r="3.3" fill="none" stroke="#5000d6" stroke-width="1.35"/><circle cx="325.5" cy="177.2" r="3.3" fill="none" stroke="#5000d6" stroke-width="1.35"/><circle cx="328.8" cy="176.2" r="3.3" fill="none" stroke="#5000d6" stroke-width="1.35"/><circle cx="331.8" cy="175.6" r="3.3" fill="none" stroke="#5000d6" stroke-width="1.35"/><circle cx="336.0" cy="174.9" r="3.3" fill="none" stroke="#5000d6" stroke-width="1.35"/><circle cx="340.6" cy="174.3" r="3.3" fill="none" stroke="#5000d6" stroke-width="1.35"/><circle cx="341.8" cy="173.9" r="3.3" fill="none" stroke="#5000d6" stroke-width="1.35"/><circle cx="344.8" cy="173.5" r="3.3" fill="none" stroke="#5000d6" stroke-width="1.35"/><circle cx="348.3" cy="173.7" r="3.3" fill="none" stroke="#5000d6" stroke-width="1.35"/><circle cx="350.0" cy="172.8" r="3.3" fill="none" stroke="#5000d6" stroke-width="1.35"/><circle cx="353.8" cy="172.3" r="3.3" fill="none" stroke="#5000d6" stroke-width="1.35"/><circle cx="355.6" cy="172.7" r="3.3" fill="none" stroke="#5000d6" stroke-width="1.35"/><circle cx="98.2" cy="217.4" r="3.3" fill="none" stroke="#5000d6" stroke-width="1.35"/><circle cx="117.2" cy="214.2" r="3.3" fill="none" stroke="#5000d6" stroke-width="1.35"/><circle cx="141.2" cy="210.2" r="3.3" fill="none" stroke="#5000d6" stroke-width="1.35"/><circle cx="172.4" cy="204.8" r="3.3" fill="none" stroke="#5000d6" stroke-width="1.35"/><circle cx="214.2" cy="198.0" r="3.3" fill="none" stroke="#5000d6" stroke-width="1.35"/><circle cx="231.3" cy="194.1" r="3.3" fill="none" stroke="#5000d6" stroke-width="1.35"/><circle cx="240.8" cy="192.0" r="3.3" fill="none" stroke="#5000d6" stroke-width="1.35"/><circle cx="252.8" cy="191.2" r="3.3" fill="none" stroke="#5000d6" stroke-width="1.35"/><circle cx="268.8" cy="188.0" r="3.3" fill="none" stroke="#5000d6" stroke-width="1.35"/><circle cx="273.5" cy="188.0" r="3.3" fill="none" stroke="#5000d6" stroke-width="1.35"/><circle cx="282.4" cy="186.4" r="3.3" fill="none" stroke="#5000d6" stroke-width="1.35"/><circle cx="289.6" cy="184.8" r="3.3" fill="none" stroke="#5000d6" stroke-width="1.35"/><circle cx="295.0" cy="183.6" r="3.3" fill="none" stroke="#5000d6" stroke-width="1.35"/><circle cx="299.4" cy="182.6" r="3.3" fill="none" stroke="#5000d6" stroke-width="1.35"/><circle cx="304.3" cy="181.3" r="3.3" fill="none" stroke="#5000d6" stroke-width="1.35"/><circle cx="309.7" cy="180.4" r="3.3" fill="none" stroke="#5000d6" stroke-width="1.35"/><circle cx="312.5" cy="180.3" r="3.3" fill="none" stroke="#5000d6" stroke-width="1.35"/><circle cx="316.2" cy="179.4" r="3.3" fill="none" stroke="#5000d6" stroke-width="1.35"/><circle cx="321.2" cy="178.3" r="3.3" fill="none" stroke="#5000d6" stroke-width="1.35"/><circle cx="325.7" cy="177.6" r="3.3" fill="none" stroke="#5000d6" stroke-width="1.35"/><circle cx="329.2" cy="177.4" r="3.3" fill="none" stroke="#5000d6" stroke-width="1.35"/><circle cx="332.8" cy="177.5" r="3.3" fill="none" stroke="#5000d6" stroke-width="1.35"/><circle cx="336.7" cy="176.2" r="3.3" fill="none" stroke="#5000d6" stroke-width="1.35"/><circle cx="339.7" cy="175.1" r="3.3" fill="none" stroke="#5000d6" stroke-width="1.35"/><circle cx="343.1" cy="175.4" r="3.3" fill="none" stroke="#5000d6" stroke-width="1.35"/><circle cx="346.4" cy="175.0" r="3.3" fill="none" stroke="#5000d6" stroke-width="1.35"/><circle cx="348.3" cy="173.8" r="3.3" fill="none" stroke="#5000d6" stroke-width="1.35"/><circle cx="350.6" cy="174.4" r="3.3" fill="none" stroke="#5000d6" stroke-width="1.35"/><circle cx="353.9" cy="173.0" r="3.3" fill="none" stroke="#5000d6" stroke-width="1.35"/><circle cx="355.8" cy="172.6" r="3.3" fill="none" stroke="#5000d6" stroke-width="1.35"/><circle cx="117.6" cy="248.2" r="3.6" fill="#5000d6"/><circle cx="117.6" cy="250.5" r="3.6" fill="#5000d6"/><circle cx="125.1" cy="244.9" r="3.6" fill="#5000d6"/><circle cx="134.8" cy="243.4" r="3.6" fill="#5000d6"/><circle cx="142.4" cy="240.2" r="3.6" fill="#5000d6"/><circle cx="165.2" cy="234.5" r="3.6" fill="#5000d6"/><circle cx="170.9" cy="231.3" r="3.6" fill="#5000d6"/><circle cx="207.8" cy="220.2" r="3.6" fill="#5000d6"/><circle cx="212.5" cy="219.0" r="3.6" fill="#5000d6"/><circle cx="243.2" cy="206.6" r="3.6" fill="#5000d6"/><circle cx="247.2" cy="205.0" r="3.6" fill="#5000d6"/><circle cx="251.2" cy="204.2" r="3.6" fill="#5000d6"/><circle cx="254.4" cy="203.4" r="3.6" fill="#5000d6"/><circle cx="263.2" cy="201.0" r="3.6" fill="#5000d6"/><circle cx="266.4" cy="200.2" r="3.6" fill="#5000d6"/><circle cx="270.4" cy="199.4" r="3.6" fill="#5000d6"/><circle cx="274.0" cy="198.6" r="3.6" fill="#5000d6"/><circle cx="282.4" cy="194.6" r="3.6" fill="#5000d6"/><circle cx="285.6" cy="193.0" r="3.6" fill="#5000d6"/><circle cx="290.4" cy="191.4" r="3.6" fill="#5000d6"/><circle cx="294.7" cy="193.3" r="3.6" fill="#5000d6"/><circle cx="298.7" cy="192.3" r="3.6" fill="#5000d6"/><circle cx="304.0" cy="190.7" r="3.6" fill="#5000d6"/><circle cx="309.3" cy="190.1" r="3.6" fill="#5000d6"/><circle cx="312.7" cy="189.9" r="3.6" fill="#5000d6"/><circle cx="316.6" cy="189.0" r="3.6" fill="#5000d6"/><circle cx="320.8" cy="188.0" r="3.6" fill="#5000d6"/><circle cx="324.6" cy="186.1" r="3.6" fill="#5000d6"/><circle cx="328.6" cy="184.6" r="3.6" fill="#5000d6"/><circle cx="332.1" cy="183.2" r="3.6" fill="#5000d6"/><circle cx="335.9" cy="181.9" r="3.6" fill="#5000d6"/><circle cx="340.0" cy="180.5" r="3.6" fill="#5000d6"/><circle cx="342.3" cy="178.9" r="3.6" fill="#5000d6"/><circle cx="345.1" cy="177.8" r="3.6" fill="#5000d6"/><circle cx="347.5" cy="177.3" r="3.6" fill="#5000d6"/><circle cx="350.9" cy="176.2" r="3.6" fill="#5000d6"/><circle cx="354.0" cy="174.2" r="3.6" fill="#5000d6"/><circle cx="356.1" cy="173.2" r="3.6" fill="#5000d6"/><circle cx="97.8" cy="260.7" r="3.6" fill="#5000d6"/><circle cx="117.1" cy="254.2" r="3.6" fill="#5000d6"/><circle cx="141.2" cy="246.3" r="3.6" fill="#5000d6"/><circle cx="172.0" cy="236.0" r="3.6" fill="#5000d6"/><circle cx="214.2" cy="221.7" r="3.6" fill="#5000d6"/><circle cx="231.3" cy="215.9" r="3.6" fill="#5000d6"/><circle cx="240.8" cy="211.4" r="3.6" fill="#5000d6"/><path d="M138.6 183.7L145.4 183.7L142.0 190.0Z" fill="none" stroke="#ff1414" stroke-width="0.75"/><path d="M146.6 182.0L153.4 182.0L150.0 188.3Z" fill="none" stroke="#ff1414" stroke-width="0.75"/><path d="M154.7 178.8L161.5 178.8L158.1 185.2Z" fill="none" stroke="#ff1414" stroke-width="0.75"/><path d="M158.6 180.3L165.4 180.3L162.0 186.7Z" fill="none" stroke="#ff1414" stroke-width="0.75"/><path d="M162.6 177.8L169.4 177.8L166.0 184.1Z" fill="none" stroke="#ff1414" stroke-width="0.75"/><path d="M173.9 176.7L180.7 176.7L177.3 183.0Z" fill="none" stroke="#ff1414" stroke-width="0.75"/><path d="M178.8 177.8L185.6 177.8L182.2 184.1Z" fill="none" stroke="#ff1414" stroke-width="0.75"/><path d="M191.6 174.9L198.4 174.9L195.0 181.2Z" fill="none" stroke="#ff1414" stroke-width="0.75"/><path d="M213.4 176.4L220.2 176.4L216.8 182.8Z" fill="none" stroke="#ff1414" stroke-width="0.75"/><path d="M221.5 174.3L228.3 174.3L224.9 180.7Z" fill="none" stroke="#ff1414" stroke-width="0.75"/><path d="M251.8 176.0L258.6 176.0L255.2 182.3Z" fill="none" stroke="#ff1414" stroke-width="0.75"/><path d="M255.8 176.0L262.6 176.0L259.2 182.3Z" fill="none" stroke="#ff1414" stroke-width="0.75"/><path d="M253.4 178.3L260.2 178.3L256.8 184.7Z" fill="none" stroke="#ff1414" stroke-width="0.75"/><path d="M260.6 174.4L267.4 174.4L264.0 180.8Z" fill="none" stroke="#ff1414" stroke-width="0.75"/><path d="M265.4 175.2L272.2 175.2L268.8 181.6Z" fill="none" stroke="#ff1414" stroke-width="0.75"/><path d="M270.2 173.7L277.0 173.7L273.6 180.0Z" fill="none" stroke="#ff1414" stroke-width="0.75"/><path d="M274.2 174.4L281.0 174.4L277.6 180.8Z" fill="none" stroke="#ff1414" stroke-width="0.75"/><path d="M277.1 175.3L283.9 175.3L280.5 181.7Z" fill="none" stroke="#ff1414" stroke-width="0.75"/><path d="M286.2 172.0L293.0 172.0L289.6 178.3Z" fill="none" stroke="#ff1414" stroke-width="0.75"/><path d="M289.4 172.8L296.2 172.8L292.8 179.2Z" fill="none" stroke="#ff1414" stroke-width="0.75"/><path d="M292.4 173.0L299.2 173.0L295.8 179.3Z" fill="none" stroke="#ff1414" stroke-width="0.75"/><path d="M296.2 171.9L303.0 171.9L299.6 178.2Z" fill="none" stroke="#ff1414" stroke-width="0.75"/><path d="M301.3 171.5L308.1 171.5L304.7 177.8Z" fill="none" stroke="#ff1414" stroke-width="0.75"/><path d="M303.7 172.9L310.5 172.9L307.1 179.2Z" fill="none" stroke="#ff1414" stroke-width="0.75"/><path d="M306.3 171.7L313.1 171.7L309.7 178.0Z" fill="none" stroke="#ff1414" stroke-width="0.75"/><path d="M307.9 172.7L314.7 172.7L311.3 179.0Z" fill="none" stroke="#ff1414" stroke-width="0.75"/><path d="M310.1 171.8L316.9 171.8L313.5 178.1Z" fill="none" stroke="#ff1414" stroke-width="0.75"/><path d="M312.0 172.4L318.8 172.4L315.4 178.7Z" fill="none" stroke="#ff1414" stroke-width="0.75"/><path d="M314.4 171.1L321.2 171.1L317.8 177.4Z" fill="none" stroke="#ff1414" stroke-width="0.75"/><path d="M315.3 172.4L322.1 172.4L318.7 178.7Z" fill="none" stroke="#ff1414" stroke-width="0.75"/><path d="M318.5 170.6L325.3 170.6L321.9 176.9Z" fill="none" stroke="#ff1414" stroke-width="0.75"/><path d="M321.3 172.1L328.1 172.1L324.7 178.4Z" fill="none" stroke="#ff1414" stroke-width="0.75"/><path d="M323.1 171.0L329.9 171.0L326.5 177.3Z" fill="none" stroke="#ff1414" stroke-width="0.75"/><path d="M324.6 172.2L331.4 172.2L328.0 178.5Z" fill="none" stroke="#ff1414" stroke-width="0.75"/><path d="M326.1 170.0L332.9 170.0L329.5 176.3Z" fill="none" stroke="#ff1414" stroke-width="0.75"/><path d="M328.8 171.1L335.6 171.1L332.2 177.4Z" fill="none" stroke="#ff1414" stroke-width="0.75"/><path d="M329.5 169.7L336.3 169.7L332.9 176.0Z" fill="none" stroke="#ff1414" stroke-width="0.75"/><path d="M331.6 170.6L338.4 170.6L335.0 176.9Z" fill="none" stroke="#ff1414" stroke-width="0.75"/><path d="M333.6 169.8L340.4 169.8L337.0 176.1Z" fill="none" stroke="#ff1414" stroke-width="0.75"/><path d="M336.4 170.3L343.2 170.3L339.8 176.6Z" fill="none" stroke="#ff1414" stroke-width="0.75"/><path d="M336.9 169.4L343.7 169.4L340.3 175.7Z" fill="none" stroke="#ff1414" stroke-width="0.75"/><path d="M339.8 170.8L346.6 170.8L343.2 177.1Z" fill="none" stroke="#ff1414" stroke-width="0.75"/><path d="M340.4 169.1L347.2 169.1L343.8 175.4Z" fill="none" stroke="#ff1414" stroke-width="0.75"/><path d="M342.2 169.9L349.0 169.9L345.6 176.2Z" fill="none" stroke="#ff1414" stroke-width="0.75"/><path d="M342.8 169.8L349.6 169.8L346.2 176.1Z" fill="none" stroke="#ff1414" stroke-width="0.75"/><path d="M345.3 169.9L352.1 169.9L348.7 176.2Z" fill="none" stroke="#ff1414" stroke-width="0.75"/><path d="M344.9 168.9L351.7 168.9L348.3 175.2Z" fill="none" stroke="#ff1414" stroke-width="0.75"/><path d="M347.6 169.3L354.4 169.3L351.0 175.6Z" fill="none" stroke="#ff1414" stroke-width="0.75"/><path d="M347.9 168.6L354.7 168.6L351.3 174.9Z" fill="none" stroke="#ff1414" stroke-width="0.75"/><path d="M350.3 170.0L357.1 170.0L353.7 176.3Z" fill="none" stroke="#ff1414" stroke-width="0.75"/><path d="M351.1 168.3L357.9 168.3L354.5 174.6Z" fill="none" stroke="#ff1414" stroke-width="0.75"/><path d="M353.5 168.6L360.3 168.6L356.9 174.9Z" fill="none" stroke="#ff1414" stroke-width="0.75"/><path d="M353.9 168.9L360.7 168.9L357.3 175.2Z" fill="none" stroke="#ff1414" stroke-width="0.75"/><path d="M354.9 169.0L361.7 169.0L358.3 175.3Z" fill="none" stroke="#ff1414" stroke-width="0.75"/><path d="M94.8 215.3L101.6 215.3L98.2 221.6Z" fill="none" stroke="#ff1414" stroke-width="0.75"/><path d="M113.8 212.1L120.6 212.1L117.2 218.4Z" fill="none" stroke="#ff1414" stroke-width="0.75"/><path d="M137.8 208.1L144.6 208.1L141.2 214.4Z" fill="none" stroke="#ff1414" stroke-width="0.75"/><path d="M169.0 202.7L175.8 202.7L172.4 209.0Z" fill="none" stroke="#ff1414" stroke-width="0.75"/><path d="M210.8 195.9L217.6 195.9L214.2 202.2Z" fill="none" stroke="#ff1414" stroke-width="0.75"/><path d="M227.9 192.0L234.7 192.0L231.3 198.3Z" fill="none" stroke="#ff1414" stroke-width="0.75"/><path d="M237.4 189.9L244.2 189.9L240.8 196.2Z" fill="none" stroke="#ff1414" stroke-width="0.75"/><path d="M249.4 189.1L256.2 189.1L252.8 195.4Z" fill="none" stroke="#ff1414" stroke-width="0.75"/><path d="M265.4 185.9L272.2 185.9L268.8 192.2Z" fill="none" stroke="#ff1414" stroke-width="0.75"/><path d="M270.1 185.9L276.9 185.9L273.5 192.2Z" fill="none" stroke="#ff1414" stroke-width="0.75"/><path d="M279.0 184.3L285.8 184.3L282.4 190.6Z" fill="none" stroke="#ff1414" stroke-width="0.75"/><path d="M286.2 182.7L293.0 182.7L289.6 189.0Z" fill="none" stroke="#ff1414" stroke-width="0.75"/><path d="M291.6 181.5L298.4 181.5L295.0 187.8Z" fill="none" stroke="#ff1414" stroke-width="0.75"/><path d="M296.0 180.5L302.8 180.5L299.4 186.8Z" fill="none" stroke="#ff1414" stroke-width="0.75"/><path d="M300.9 179.2L307.7 179.2L304.3 185.5Z" fill="none" stroke="#ff1414" stroke-width="0.75"/><path d="M306.3 178.3L313.1 178.3L309.7 184.6Z" fill="none" stroke="#ff1414" stroke-width="0.75"/><path d="M309.1 178.2L315.9 178.2L312.5 184.5Z" fill="none" stroke="#ff1414" stroke-width="0.75"/><path d="M312.8 177.3L319.6 177.3L316.2 183.6Z" fill="none" stroke="#ff1414" stroke-width="0.75"/><path d="M317.8 176.2L324.6 176.2L321.2 182.5Z" fill="none" stroke="#ff1414" stroke-width="0.75"/><path d="M322.3 175.5L329.1 175.5L325.7 181.8Z" fill="none" stroke="#ff1414" stroke-width="0.75"/><path d="M325.8 175.3L332.6 175.3L329.2 181.6Z" fill="none" stroke="#ff1414" stroke-width="0.75"/><path d="M329.4 175.4L336.2 175.4L332.8 181.7Z" fill="none" stroke="#ff1414" stroke-width="0.75"/><path d="M333.3 174.1L340.1 174.1L336.7 180.4Z" fill="none" stroke="#ff1414" stroke-width="0.75"/><path d="M336.3 173.0L343.1 173.0L339.7 179.3Z" fill="none" stroke="#ff1414" stroke-width="0.75"/><path d="M339.7 173.3L346.5 173.3L343.1 179.6Z" fill="none" stroke="#ff1414" stroke-width="0.75"/><path d="M343.0 172.9L349.8 172.9L346.4 179.2Z" fill="none" stroke="#ff1414" stroke-width="0.75"/><path d="M344.9 171.7L351.7 171.7L348.3 178.0Z" fill="none" stroke="#ff1414" stroke-width="0.75"/><path d="M347.2 172.3L354.0 172.3L350.6 178.6Z" fill="none" stroke="#ff1414" stroke-width="0.75"/><path d="M350.5 170.9L357.3 170.9L353.9 177.2Z" fill="none" stroke="#ff1414" stroke-width="0.75"/><path d="M352.4 170.5L359.2 170.5L355.8 176.8Z" fill="none" stroke="#ff1414" stroke-width="0.75"/><path d="M137.9 234.1L145.8 234.1L141.8 241.3Z" fill="#ff1414"/><path d="M146.1 232.0L153.9 232.0L150.0 239.2Z" fill="#ff1414"/><path d="M154.2 228.8L162.0 228.8L158.1 236.0Z" fill="#ff1414"/><path d="M158.1 230.3L165.9 230.3L162.0 237.5Z" fill="#ff1414"/><path d="M162.1 227.7L169.9 227.7L166.0 234.9Z" fill="#ff1414"/><path d="M173.4 224.5L181.2 224.5L177.3 231.7Z" fill="#ff1414"/><path d="M178.2 223.9L186.1 223.9L182.2 231.1Z" fill="#ff1414"/><path d="M191.1 220.3L198.9 220.3L195.0 227.5Z" fill="#ff1414"/><path d="M212.9 216.0L220.8 216.0L216.8 223.2Z" fill="#ff1414"/><path d="M221.0 212.9L228.8 212.9L224.9 220.1Z" fill="#ff1414"/><path d="M245.6 205.4L253.4 205.4L249.5 212.6Z" fill="#ff1414"/><path d="M248.9 204.6L256.8 204.6L252.8 211.8Z" fill="#ff1414"/><path d="M252.1 205.4L259.9 205.4L256.0 212.6Z" fill="#ff1414"/><path d="M257.7 202.2L265.6 202.2L261.6 209.4Z" fill="#ff1414"/><path d="M261.1 203.4L268.9 203.4L265.0 210.6Z" fill="#ff1414"/><path d="M264.1 203.0L271.9 203.0L268.0 210.2Z" fill="#ff1414"/><path d="M268.9 200.6L276.8 200.6L272.8 207.8Z" fill="#ff1414"/><path d="M273.7 199.0L281.6 199.0L277.6 206.2Z" fill="#ff1414"/><path d="M276.9 195.8L284.8 195.8L280.8 203.0Z" fill="#ff1414"/><path d="M280.6 195.4L288.4 195.4L284.5 202.6Z" fill="#ff1414"/><path d="M284.9 193.4L292.8 193.4L288.8 200.6Z" fill="#ff1414"/><path d="M289.7 191.0L297.6 191.0L293.6 198.2Z" fill="#ff1414"/><path d="M292.0 191.2L299.9 191.2L295.9 198.4Z" fill="#ff1414"/><path d="M293.1 194.1L301.0 194.1L297.1 201.3Z" fill="#ff1414"/><path d="M295.8 189.4L303.7 189.4L299.7 196.6Z" fill="#ff1414"/><path d="M297.5 192.7L305.4 192.7L301.5 199.9Z" fill="#ff1414"/><path d="M301.0 189.0L308.9 189.0L304.9 196.2Z" fill="#ff1414"/><path d="M302.7 191.1L310.6 191.1L306.6 198.3Z" fill="#ff1414"/><path d="M306.0 188.0L313.9 188.0L310.0 195.2Z" fill="#ff1414"/><path d="M307.4 189.1L315.3 189.1L311.3 196.3Z" fill="#ff1414"/><path d="M309.2 187.5L317.1 187.5L313.2 194.7Z" fill="#ff1414"/><path d="M311.4 188.1L319.3 188.1L315.4 195.3Z" fill="#ff1414"/><path d="M313.2 187.2L321.1 187.2L317.2 194.4Z" fill="#ff1414"/><path d="M314.3 187.5L322.2 187.5L318.2 194.7Z" fill="#ff1414"/><path d="M317.8 186.0L325.7 186.0L321.8 193.2Z" fill="#ff1414"/><path d="M319.4 186.2L327.3 186.2L323.3 193.4Z" fill="#ff1414"/><path d="M322.2 184.0L330.1 184.0L326.2 191.2Z" fill="#ff1414"/><path d="M323.6 184.6L331.5 184.6L327.6 191.8Z" fill="#ff1414"/><path d="M325.4 182.0L333.3 182.0L329.4 189.2Z" fill="#ff1414"/><path d="M326.9 183.5L334.8 183.5L330.8 190.7Z" fill="#ff1414"/><path d="M329.6 180.7L337.5 180.7L333.5 187.9Z" fill="#ff1414"/><path d="M330.7 181.8L338.6 181.8L334.6 189.0Z" fill="#ff1414"/><path d="M334.0 179.3L341.9 179.3L337.9 186.5Z" fill="#ff1414"/><path d="M335.3 179.7L343.2 179.7L339.2 186.9Z" fill="#ff1414"/><path d="M337.0 177.7L344.9 177.7L340.9 184.9Z" fill="#ff1414"/><path d="M338.8 179.0L346.7 179.0L342.8 186.2Z" fill="#ff1414"/><path d="M339.2 175.9L347.1 175.9L343.1 183.1Z" fill="#ff1414"/><path d="M341.0 177.9L348.9 177.9L344.9 185.1Z" fill="#ff1414"/><path d="M342.2 174.7L350.1 174.7L346.1 181.9Z" fill="#ff1414"/><path d="M343.7 176.9L351.6 176.9L347.7 184.1Z" fill="#ff1414"/><path d="M345.4 173.9L353.3 173.9L349.3 181.1Z" fill="#ff1414"/><path d="M346.6 175.4L354.5 175.4L350.6 182.6Z" fill="#ff1414"/><path d="M347.3 172.4L355.2 172.4L351.3 179.6Z" fill="#ff1414"/><path d="M348.6 174.5L356.5 174.5L352.6 181.7Z" fill="#ff1414"/><path d="M350.4 171.1L358.3 171.1L354.3 178.3Z" fill="#ff1414"/><path d="M351.9 173.3L359.8 173.3L355.8 180.5Z" fill="#ff1414"/><path d="M353.4 170.1L361.3 170.1L357.3 177.3Z" fill="#ff1414"/><path d="M354.3 172.9L362.2 172.9L358.2 180.1Z" fill="#ff1414"/><path d="M93.8 258.3L101.8 258.3L97.8 265.5Z" fill="#ff1414"/><path d="M113.1 251.8L121.0 251.8L117.1 259.0Z" fill="#ff1414"/><path d="M137.2 243.9L145.1 243.9L141.2 251.1Z" fill="#ff1414"/><path d="M168.1 233.6L175.9 233.6L172.0 240.8Z" fill="#ff1414"/><path d="M210.2 219.3L218.1 219.3L214.2 226.5Z" fill="#ff1414"/><path d="M227.4 213.5L235.2 213.5L231.3 220.7Z" fill="#ff1414"/><path d="M236.9 209.0L244.8 209.0L240.8 216.2Z" fill="#ff1414"/><path d="M291.8 193.8L299.7 193.8L295.7 201.0Z" fill="#ff1414"/><path d="M296.4 192.7L304.3 192.7L300.3 199.9Z" fill="#ff1414"/><path d="M301.0 191.5L308.9 191.5L305.0 198.7Z" fill="#ff1414"/><path d="M306.9 190.7L314.8 190.7L310.8 197.9Z" fill="#ff1414"/><path d="M310.4 189.4L318.3 189.4L314.3 196.6Z" fill="#ff1414"/><path d="M314.2 188.3L322.1 188.3L318.2 195.5Z" fill="#ff1414"/><path d="M318.6 186.2L326.5 186.2L322.6 193.4Z" fill="#ff1414"/><path d="M322.8 184.9L330.7 184.9L326.7 192.1Z" fill="#ff1414"/><path d="M326.6 184.4L334.5 184.4L330.5 191.6Z" fill="#ff1414"/><path d="M329.3 182.3L337.2 182.3L333.3 189.5Z" fill="#ff1414"/><path d="M334.3 180.9L342.2 180.9L338.3 188.1Z" fill="#ff1414"/><path d="M337.3 179.6L345.2 179.6L341.3 186.8Z" fill="#ff1414"/><path d="M340.0 178.0L347.9 178.0L344.0 185.2Z" fill="#ff1414"/><path d="M342.9 177.9L350.8 177.9L346.9 185.1Z" fill="#ff1414"/><path d="M345.1 176.9L353.0 176.9L349.1 184.1Z" fill="#ff1414"/><path d="M348.3 175.8L356.2 175.8L352.3 183.0Z" fill="#ff1414"/><path d="M351.6 173.9L359.5 173.9L355.5 181.1Z" fill="#ff1414"/><path d="M352.9 172.8L360.8 172.8L356.9 180.0Z" fill="#ff1414"/></g>
<g><circle cx="158.9" cy="362.3" r="3.3" fill="none" stroke="#5000d6" stroke-width="1.35"/><circle cx="161.7" cy="360.3" r="3.3" fill="none" stroke="#5000d6" stroke-width="1.35"/><circle cx="164.5" cy="358.8" r="3.3" fill="none" stroke="#5000d6" stroke-width="1.35"/><circle cx="173.4" cy="358.3" r="3.3" fill="none" stroke="#5000d6" stroke-width="1.35"/><circle cx="179.0" cy="356.0" r="3.3" fill="none" stroke="#5000d6" stroke-width="1.35"/><circle cx="197.6" cy="353.2" r="3.3" fill="none" stroke="#5000d6" stroke-width="1.35"/><circle cx="201.6" cy="351.1" r="3.3" fill="none" stroke="#5000d6" stroke-width="1.35"/><circle cx="234.4" cy="345.2" r="3.3" fill="none" stroke="#5000d6" stroke-width="1.35"/><circle cx="237.6" cy="346.0" r="3.3" fill="none" stroke="#5000d6" stroke-width="1.35"/><circle cx="254.0" cy="343.0" r="3.3" fill="none" stroke="#5000d6" stroke-width="1.35"/><circle cx="260.0" cy="341.0" r="3.3" fill="none" stroke="#5000d6" stroke-width="1.35"/><circle cx="264.0" cy="339.0" r="3.3" fill="none" stroke="#5000d6" stroke-width="1.35"/><circle cx="267.0" cy="337.5" r="3.3" fill="none" stroke="#5000d6" stroke-width="1.35"/><circle cx="270.5" cy="336.5" r="3.3" fill="none" stroke="#5000d6" stroke-width="1.35"/><circle cx="290.2" cy="333.7" r="3.3" fill="none" stroke="#5000d6" stroke-width="1.35"/><circle cx="295.8" cy="332.7" r="3.3" fill="none" stroke="#5000d6" stroke-width="1.35"/><circle cx="299.6" cy="331.8" r="3.3" fill="none" stroke="#5000d6" stroke-width="1.35"/><circle cx="304.8" cy="331.9" r="3.3" fill="none" stroke="#5000d6" stroke-width="1.35"/><circle cx="307.7" cy="330.4" r="3.3" fill="none" stroke="#5000d6" stroke-width="1.35"/><circle cx="311.3" cy="330.0" r="3.3" fill="none" stroke="#5000d6" stroke-width="1.35"/><circle cx="314.1" cy="329.0" r="3.3" fill="none" stroke="#5000d6" stroke-width="1.35"/><circle cx="316.3" cy="328.9" r="3.3" fill="none" stroke="#5000d6" stroke-width="1.35"/><circle cx="318.9" cy="328.3" r="3.3" fill="none" stroke="#5000d6" stroke-width="1.35"/><circle cx="322.8" cy="328.4" r="3.3" fill="none" stroke="#5000d6" stroke-width="1.35"/><circle cx="324.8" cy="327.0" r="3.3" fill="none" stroke="#5000d6" stroke-width="1.35"/><circle cx="327.4" cy="326.8" r="3.3" fill="none" stroke="#5000d6" stroke-width="1.35"/><circle cx="330.1" cy="325.4" r="3.3" fill="none" stroke="#5000d6" stroke-width="1.35"/><circle cx="332.8" cy="326.1" r="3.3" fill="none" stroke="#5000d6" stroke-width="1.35"/><circle cx="335.4" cy="324.6" r="3.3" fill="none" stroke="#5000d6" stroke-width="1.35"/><circle cx="337.1" cy="325.1" r="3.3" fill="none" stroke="#5000d6" stroke-width="1.35"/><circle cx="340.1" cy="324.1" r="3.3" fill="none" stroke="#5000d6" stroke-width="1.35"/><circle cx="341.7" cy="323.5" r="3.3" fill="none" stroke="#5000d6" stroke-width="1.35"/><circle cx="344.4" cy="322.6" r="3.3" fill="none" stroke="#5000d6" stroke-width="1.35"/><circle cx="345.3" cy="322.6" r="3.3" fill="none" stroke="#5000d6" stroke-width="1.35"/><circle cx="346.8" cy="321.5" r="3.3" fill="none" stroke="#5000d6" stroke-width="1.35"/><circle cx="349.8" cy="320.9" r="3.3" fill="none" stroke="#5000d6" stroke-width="1.35"/><circle cx="351.2" cy="321.7" r="3.3" fill="none" stroke="#5000d6" stroke-width="1.35"/><circle cx="352.6" cy="321.0" r="3.3" fill="none" stroke="#5000d6" stroke-width="1.35"/><circle cx="354.7" cy="320.8" r="3.3" fill="none" stroke="#5000d6" stroke-width="1.35"/><circle cx="356.1" cy="320.1" r="3.3" fill="none" stroke="#5000d6" stroke-width="1.35"/><circle cx="357.6" cy="320.3" r="3.3" fill="none" stroke="#5000d6" stroke-width="1.35"/><circle cx="357.8" cy="319.7" r="3.3" fill="none" stroke="#5000d6" stroke-width="1.35"/><circle cx="144.0" cy="369.9" r="3.3" fill="none" stroke="#5000d6" stroke-width="1.35"/><circle cx="160.0" cy="366.1" r="3.3" fill="none" stroke="#5000d6" stroke-width="1.35"/><circle cx="179.0" cy="361.8" r="3.3" fill="none" stroke="#5000d6" stroke-width="1.35"/><circle cx="275.0" cy="340.0" r="3.3" fill="none" stroke="#5000d6" stroke-width="1.35"/><circle cx="283.0" cy="337.5" r="3.3" fill="none" stroke="#5000d6" stroke-width="1.35"/><circle cx="291.7" cy="335.9" r="3.3" fill="none" stroke="#5000d6" stroke-width="1.35"/><circle cx="296.4" cy="334.7" r="3.3" fill="none" stroke="#5000d6" stroke-width="1.35"/><circle cx="299.8" cy="334.0" r="3.3" fill="none" stroke="#5000d6" stroke-width="1.35"/><circle cx="305.2" cy="332.4" r="3.3" fill="none" stroke="#5000d6" stroke-width="1.35"/><circle cx="308.7" cy="332.4" r="3.3" fill="none" stroke="#5000d6" stroke-width="1.35"/><circle cx="310.9" cy="331.9" r="3.3" fill="none" stroke="#5000d6" stroke-width="1.35"/><circle cx="314.0" cy="330.4" r="3.3" fill="none" stroke="#5000d6" stroke-width="1.35"/><circle cx="316.9" cy="330.0" r="3.3" fill="none" stroke="#5000d6" stroke-width="1.35"/><circle cx="320.4" cy="330.0" r="3.3" fill="none" stroke="#5000d6" stroke-width="1.35"/><circle cx="322.6" cy="328.3" r="3.3" fill="none" stroke="#5000d6" stroke-width="1.35"/><circle cx="324.7" cy="328.0" r="3.3" fill="none" stroke="#5000d6" stroke-width="1.35"/><circle cx="328.0" cy="327.6" r="3.3" fill="none" stroke="#5000d6" stroke-width="1.35"/><circle cx="330.8" cy="326.5" r="3.3" fill="none" stroke="#5000d6" stroke-width="1.35"/><circle cx="334.0" cy="326.0" r="3.3" fill="none" stroke="#5000d6" stroke-width="1.35"/><circle cx="335.2" cy="325.5" r="3.3" fill="none" stroke="#5000d6" stroke-width="1.35"/><circle cx="338.4" cy="325.3" r="3.3" fill="none" stroke="#5000d6" stroke-width="1.35"/><circle cx="340.2" cy="324.2" r="3.3" fill="none" stroke="#5000d6" stroke-width="1.35"/><circle cx="342.7" cy="323.9" r="3.3" fill="none" stroke="#5000d6" stroke-width="1.35"/><circle cx="345.0" cy="323.6" r="3.3" fill="none" stroke="#5000d6" stroke-width="1.35"/><circle cx="346.3" cy="323.5" r="3.3" fill="none" stroke="#5000d6" stroke-width="1.35"/><circle cx="347.3" cy="322.2" r="3.3" fill="none" stroke="#5000d6" stroke-width="1.35"/><circle cx="349.3" cy="322.0" r="3.3" fill="none" stroke="#5000d6" stroke-width="1.35"/><circle cx="351.3" cy="322.2" r="3.3" fill="none" stroke="#5000d6" stroke-width="1.35"/><circle cx="353.1" cy="321.8" r="3.3" fill="none" stroke="#5000d6" stroke-width="1.35"/><circle cx="354.9" cy="321.4" r="3.3" fill="none" stroke="#5000d6" stroke-width="1.35"/><circle cx="356.5" cy="320.8" r="3.3" fill="none" stroke="#5000d6" stroke-width="1.35"/><circle cx="356.8" cy="320.2" r="3.3" fill="none" stroke="#5000d6" stroke-width="1.35"/><circle cx="359.3" cy="320.2" r="3.3" fill="none" stroke="#5000d6" stroke-width="1.35"/><circle cx="159.5" cy="364.5" r="3.6" fill="#5000d6"/><circle cx="164.0" cy="366.0" r="3.6" fill="#5000d6"/><circle cx="166.0" cy="365.8" r="3.6" fill="#5000d6"/><circle cx="173.4" cy="364.8" r="3.6" fill="#5000d6"/><circle cx="197.6" cy="358.8" r="3.6" fill="#5000d6"/><circle cx="201.6" cy="358.5" r="3.6" fill="#5000d6"/><circle cx="235.0" cy="349.0" r="3.6" fill="#5000d6"/><circle cx="239.0" cy="350.0" r="3.6" fill="#5000d6"/><circle cx="262.0" cy="341.7" r="3.6" fill="#5000d6"/><circle cx="265.3" cy="339.5" r="3.6" fill="#5000d6"/><circle cx="268.7" cy="338.0" r="3.6" fill="#5000d6"/><circle cx="272.0" cy="336.8" r="3.6" fill="#5000d6"/><circle cx="276.0" cy="336.0" r="3.6" fill="#5000d6"/><circle cx="280.0" cy="335.0" r="3.6" fill="#5000d6"/><circle cx="284.0" cy="334.0" r="3.6" fill="#5000d6"/><circle cx="290.0" cy="334.4" r="3.6" fill="#5000d6"/><circle cx="296.3" cy="333.1" r="3.6" fill="#5000d6"/><circle cx="299.8" cy="331.5" r="3.6" fill="#5000d6"/><circle cx="304.7" cy="330.7" r="3.6" fill="#5000d6"/><circle cx="308.1" cy="330.7" r="3.6" fill="#5000d6"/><circle cx="310.5" cy="329.5" r="3.6" fill="#5000d6"/><circle cx="313.7" cy="329.0" r="3.6" fill="#5000d6"/><circle cx="316.9" cy="328.1" r="3.6" fill="#5000d6"/><circle cx="319.3" cy="327.6" r="3.6" fill="#5000d6"/><circle cx="322.4" cy="326.9" r="3.6" fill="#5000d6"/><circle cx="325.1" cy="326.2" r="3.6" fill="#5000d6"/><circle cx="327.8" cy="326.4" r="3.6" fill="#5000d6"/><circle cx="330.1" cy="325.5" r="3.6" fill="#5000d6"/><circle cx="333.1" cy="324.7" r="3.6" fill="#5000d6"/><circle cx="335.1" cy="324.7" r="3.6" fill="#5000d6"/><circle cx="337.6" cy="324.2" r="3.6" fill="#5000d6"/><circle cx="340.0" cy="323.9" r="3.6" fill="#5000d6"/><circle cx="341.8" cy="322.6" r="3.6" fill="#5000d6"/><circle cx="343.8" cy="322.5" r="3.6" fill="#5000d6"/><circle cx="345.3" cy="322.5" r="3.6" fill="#5000d6"/><circle cx="347.4" cy="321.5" r="3.6" fill="#5000d6"/><circle cx="349.5" cy="321.1" r="3.6" fill="#5000d6"/><circle cx="350.5" cy="321.2" r="3.6" fill="#5000d6"/><circle cx="352.6" cy="320.9" r="3.6" fill="#5000d6"/><circle cx="354.4" cy="319.8" r="3.6" fill="#5000d6"/><circle cx="355.2" cy="320.0" r="3.6" fill="#5000d6"/><circle cx="357.0" cy="319.7" r="3.6" fill="#5000d6"/><circle cx="358.9" cy="318.6" r="3.6" fill="#5000d6"/><circle cx="144.0" cy="376.8" r="3.6" fill="#5000d6"/><circle cx="160.0" cy="372.0" r="3.6" fill="#5000d6"/><circle cx="179.0" cy="367.2" r="3.6" fill="#5000d6"/><circle cx="277.0" cy="341.0" r="3.6" fill="#5000d6"/><circle cx="285.0" cy="339.0" r="3.6" fill="#5000d6"/><path d="M183.0 345.8L189.8 345.8L186.4 352.0Z" fill="none" stroke="#ff1414" stroke-width="0.75"/><path d="M190.2 344.2L197.0 344.2L193.6 350.4Z" fill="none" stroke="#ff1414" stroke-width="0.75"/><path d="M199.0 342.1L205.8 342.1L202.4 348.3Z" fill="none" stroke="#ff1414" stroke-width="0.75"/><path d="M200.3 342.9L207.1 342.9L203.7 349.1Z" fill="none" stroke="#ff1414" stroke-width="0.75"/><path d="M205.4 341.6L212.2 341.6L208.8 347.8Z" fill="none" stroke="#ff1414" stroke-width="0.75"/><path d="M214.2 340.0L221.0 340.0L217.6 346.2Z" fill="none" stroke="#ff1414" stroke-width="0.75"/><path d="M217.4 340.5L224.2 340.5L220.8 346.8Z" fill="none" stroke="#ff1414" stroke-width="0.75"/><path d="M230.2 337.8L237.0 337.8L233.6 344.0Z" fill="none" stroke="#ff1414" stroke-width="0.75"/><path d="M245.6 335.4L252.4 335.4L249.0 341.6Z" fill="none" stroke="#ff1414" stroke-width="0.75"/><path d="M253.1 334.9L259.9 334.9L256.5 341.1Z" fill="none" stroke="#ff1414" stroke-width="0.75"/><path d="M273.9 331.9L280.7 331.9L277.3 338.1Z" fill="none" stroke="#ff1414" stroke-width="0.75"/><path d="M278.6 330.9L285.4 330.9L282.0 337.1Z" fill="none" stroke="#ff1414" stroke-width="0.75"/><path d="M283.6 329.9L290.4 329.9L287.0 336.1Z" fill="none" stroke="#ff1414" stroke-width="0.75"/><path d="M287.9 329.7L294.7 329.7L291.3 336.0Z" fill="none" stroke="#ff1414" stroke-width="0.75"/><path d="M293.2 329.4L300.0 329.4L296.6 335.7Z" fill="none" stroke="#ff1414" stroke-width="0.75"/><path d="M296.2 331.2L303.0 331.2L299.6 337.5Z" fill="none" stroke="#ff1414" stroke-width="0.75"/><path d="M297.6 330.1L304.4 330.1L301.0 336.4Z" fill="none" stroke="#ff1414" stroke-width="0.75"/><path d="M299.3 331.0L306.1 331.0L302.7 337.3Z" fill="none" stroke="#ff1414" stroke-width="0.75"/><path d="M302.1 328.5L308.9 328.5L305.5 334.8Z" fill="none" stroke="#ff1414" stroke-width="0.75"/><path d="M304.2 330.0L311.0 330.0L307.6 336.3Z" fill="none" stroke="#ff1414" stroke-width="0.75"/><path d="M305.9 328.3L312.7 328.3L309.3 334.6Z" fill="none" stroke="#ff1414" stroke-width="0.75"/><path d="M307.2 329.7L314.0 329.7L310.6 336.0Z" fill="none" stroke="#ff1414" stroke-width="0.75"/><path d="M308.1 328.1L314.9 328.1L311.5 334.4Z" fill="none" stroke="#ff1414" stroke-width="0.75"/><path d="M310.9 328.3L317.7 328.3L314.3 334.6Z" fill="none" stroke="#ff1414" stroke-width="0.75"/><path d="M311.7 327.1L318.5 327.1L315.1 333.4Z" fill="none" stroke="#ff1414" stroke-width="0.75"/><path d="M312.9 327.6L319.7 327.6L316.3 333.9Z" fill="none" stroke="#ff1414" stroke-width="0.75"/><path d="M314.6 326.2L321.4 326.2L318.0 332.5Z" fill="none" stroke="#ff1414" stroke-width="0.75"/><path d="M316.0 327.8L322.8 327.8L319.4 334.1Z" fill="none" stroke="#ff1414" stroke-width="0.75"/><path d="M317.7 325.6L324.5 325.6L321.1 331.9Z" fill="none" stroke="#ff1414" stroke-width="0.75"/><path d="M319.2 326.2L326.0 326.2L322.6 332.5Z" fill="none" stroke="#ff1414" stroke-width="0.75"/><path d="M319.8 325.6L326.6 325.6L323.2 331.9Z" fill="none" stroke="#ff1414" stroke-width="0.75"/><path d="M321.3 325.6L328.1 325.6L324.7 331.9Z" fill="none" stroke="#ff1414" stroke-width="0.75"/><path d="M322.9 325.1L329.7 325.1L326.3 331.4Z" fill="none" stroke="#ff1414" stroke-width="0.75"/><path d="M324.1 325.4L330.9 325.4L327.5 331.7Z" fill="none" stroke="#ff1414" stroke-width="0.75"/><path d="M325.3 324.2L332.1 324.2L328.7 330.5Z" fill="none" stroke="#ff1414" stroke-width="0.75"/><path d="M327.1 325.0L333.9 325.0L330.5 331.3Z" fill="none" stroke="#ff1414" stroke-width="0.75"/><path d="M327.3 323.1L334.1 323.1L330.7 329.4Z" fill="none" stroke="#ff1414" stroke-width="0.75"/><path d="M329.2 324.3L336.0 324.3L332.6 330.6Z" fill="none" stroke="#ff1414" stroke-width="0.75"/><path d="M331.1 323.3L337.9 323.3L334.5 329.6Z" fill="none" stroke="#ff1414" stroke-width="0.75"/><path d="M332.1 324.3L338.9 324.3L335.5 330.6Z" fill="none" stroke="#ff1414" stroke-width="0.75"/><path d="M332.7 322.5L339.5 322.5L336.1 328.8Z" fill="none" stroke="#ff1414" stroke-width="0.75"/><path d="M334.6 322.9L341.4 322.9L338.0 329.2Z" fill="none" stroke="#ff1414" stroke-width="0.75"/><path d="M335.2 322.5L342.0 322.5L338.6 328.8Z" fill="none" stroke="#ff1414" stroke-width="0.75"/><path d="M337.4 323.2L344.2 323.2L340.8 329.5Z" fill="none" stroke="#ff1414" stroke-width="0.75"/><path d="M337.1 321.9L343.9 321.9L340.5 328.2Z" fill="none" stroke="#ff1414" stroke-width="0.75"/><path d="M339.7 322.8L346.5 322.8L343.1 329.1Z" fill="none" stroke="#ff1414" stroke-width="0.75"/><path d="M339.2 320.3L346.0 320.3L342.6 326.6Z" fill="none" stroke="#ff1414" stroke-width="0.75"/><path d="M341.2 321.4L348.0 321.4L344.6 327.7Z" fill="none" stroke="#ff1414" stroke-width="0.75"/><path d="M342.3 320.2L349.1 320.2L345.7 326.5Z" fill="none" stroke="#ff1414" stroke-width="0.75"/><path d="M343.3 321.1L350.1 321.1L346.7 327.4Z" fill="none" stroke="#ff1414" stroke-width="0.75"/><path d="M343.8 319.3L350.6 319.3L347.2 325.6Z" fill="none" stroke="#ff1414" stroke-width="0.75"/><path d="M345.9 320.1L352.7 320.1L349.3 326.4Z" fill="none" stroke="#ff1414" stroke-width="0.75"/><path d="M345.3 319.8L352.1 319.8L348.7 326.1Z" fill="none" stroke="#ff1414" stroke-width="0.75"/><path d="M347.1 320.1L353.9 320.1L350.5 326.4Z" fill="none" stroke="#ff1414" stroke-width="0.75"/><path d="M346.9 318.7L353.7 318.7L350.3 325.0Z" fill="none" stroke="#ff1414" stroke-width="0.75"/><path d="M349.3 319.2L356.1 319.2L352.7 325.5Z" fill="none" stroke="#ff1414" stroke-width="0.75"/><path d="M348.9 318.7L355.7 318.7L352.3 325.0Z" fill="none" stroke="#ff1414" stroke-width="0.75"/><path d="M350.5 319.4L357.3 319.4L353.9 325.7Z" fill="none" stroke="#ff1414" stroke-width="0.75"/><path d="M350.5 318.0L357.3 318.0L353.9 324.3Z" fill="none" stroke="#ff1414" stroke-width="0.75"/><path d="M351.3 318.1L358.1 318.1L354.7 324.4Z" fill="none" stroke="#ff1414" stroke-width="0.75"/><path d="M352.4 317.2L359.2 317.2L355.8 323.5Z" fill="none" stroke="#ff1414" stroke-width="0.75"/><path d="M353.3 317.5L360.1 317.5L356.7 323.8Z" fill="none" stroke="#ff1414" stroke-width="0.75"/><path d="M352.8 317.0L359.6 317.0L356.2 323.3Z" fill="none" stroke="#ff1414" stroke-width="0.75"/><path d="M354.8 317.5L361.6 317.5L358.2 323.8Z" fill="none" stroke="#ff1414" stroke-width="0.75"/><path d="M354.3 317.2L361.1 317.2L357.7 323.5Z" fill="none" stroke="#ff1414" stroke-width="0.75"/><path d="M356.1 316.9L362.9 316.9L359.5 323.2Z" fill="none" stroke="#ff1414" stroke-width="0.75"/><path d="M355.8 316.7L362.6 316.7L359.2 323.0Z" fill="none" stroke="#ff1414" stroke-width="0.75"/><path d="M357.6 317.0L364.4 317.0L361.0 323.3Z" fill="none" stroke="#ff1414" stroke-width="0.75"/><path d="M140.6 367.8L147.4 367.8L144.0 374.1Z" fill="none" stroke="#ff1414" stroke-width="0.75"/><path d="M156.6 364.0L163.4 364.0L160.0 370.3Z" fill="none" stroke="#ff1414" stroke-width="0.75"/><path d="M175.6 359.7L182.4 359.7L179.0 366.0Z" fill="none" stroke="#ff1414" stroke-width="0.75"/><path d="M271.6 337.9L278.4 337.9L275.0 344.2Z" fill="none" stroke="#ff1414" stroke-width="0.75"/><path d="M279.6 335.4L286.4 335.4L283.0 341.7Z" fill="none" stroke="#ff1414" stroke-width="0.75"/><path d="M288.3 333.8L295.1 333.8L291.7 340.1Z" fill="none" stroke="#ff1414" stroke-width="0.75"/><path d="M293.0 332.6L299.8 332.6L296.4 338.9Z" fill="none" stroke="#ff1414" stroke-width="0.75"/><path d="M296.4 331.9L303.2 331.9L299.8 338.2Z" fill="none" stroke="#ff1414" stroke-width="0.75"/><path d="M301.8 330.3L308.6 330.3L305.2 336.6Z" fill="none" stroke="#ff1414" stroke-width="0.75"/><path d="M305.3 330.3L312.1 330.3L308.7 336.6Z" fill="none" stroke="#ff1414" stroke-width="0.75"/><path d="M307.5 329.8L314.3 329.8L310.9 336.1Z" fill="none" stroke="#ff1414" stroke-width="0.75"/><path d="M310.6 328.3L317.4 328.3L314.0 334.6Z" fill="none" stroke="#ff1414" stroke-width="0.75"/><path d="M313.5 327.9L320.3 327.9L316.9 334.2Z" fill="none" stroke="#ff1414" stroke-width="0.75"/><path d="M317.0 327.9L323.8 327.9L320.4 334.2Z" fill="none" stroke="#ff1414" stroke-width="0.75"/><path d="M319.2 326.2L326.0 326.2L322.6 332.5Z" fill="none" stroke="#ff1414" stroke-width="0.75"/><path d="M321.3 325.9L328.1 325.9L324.7 332.2Z" fill="none" stroke="#ff1414" stroke-width="0.75"/><path d="M324.6 325.5L331.4 325.5L328.0 331.8Z" fill="none" stroke="#ff1414" stroke-width="0.75"/><path d="M327.4 324.4L334.2 324.4L330.8 330.7Z" fill="none" stroke="#ff1414" stroke-width="0.75"/><path d="M330.6 323.9L337.4 323.9L334.0 330.2Z" fill="none" stroke="#ff1414" stroke-width="0.75"/><path d="M331.8 323.4L338.6 323.4L335.2 329.7Z" fill="none" stroke="#ff1414" stroke-width="0.75"/><path d="M335.0 323.2L341.8 323.2L338.4 329.5Z" fill="none" stroke="#ff1414" stroke-width="0.75"/><path d="M336.8 322.1L343.6 322.1L340.2 328.4Z" fill="none" stroke="#ff1414" stroke-width="0.75"/><path d="M339.3 321.8L346.1 321.8L342.7 328.1Z" fill="none" stroke="#ff1414" stroke-width="0.75"/><path d="M341.6 321.5L348.4 321.5L345.0 327.8Z" fill="none" stroke="#ff1414" stroke-width="0.75"/><path d="M342.9 321.4L349.7 321.4L346.3 327.7Z" fill="none" stroke="#ff1414" stroke-width="0.75"/><path d="M343.9 320.1L350.7 320.1L347.3 326.4Z" fill="none" stroke="#ff1414" stroke-width="0.75"/><path d="M345.9 319.9L352.7 319.9L349.3 326.2Z" fill="none" stroke="#ff1414" stroke-width="0.75"/><path d="M347.9 320.1L354.7 320.1L351.3 326.4Z" fill="none" stroke="#ff1414" stroke-width="0.75"/><path d="M349.7 319.7L356.5 319.7L353.1 326.0Z" fill="none" stroke="#ff1414" stroke-width="0.75"/><path d="M351.5 319.3L358.3 319.3L354.9 325.6Z" fill="none" stroke="#ff1414" stroke-width="0.75"/><path d="M353.1 318.7L359.9 318.7L356.5 325.0Z" fill="none" stroke="#ff1414" stroke-width="0.75"/><path d="M353.4 318.1L360.2 318.1L356.8 324.4Z" fill="none" stroke="#ff1414" stroke-width="0.75"/><path d="M355.9 318.1L362.7 318.1L359.3 324.4Z" fill="none" stroke="#ff1414" stroke-width="0.75"/><path d="M182.5 357.6L190.3 357.6L186.4 364.8Z" fill="#ff1414"/><path d="M189.7 356.0L197.5 356.0L193.6 363.2Z" fill="#ff1414"/><path d="M196.6 354.0L204.4 354.0L200.5 361.2Z" fill="#ff1414"/><path d="M198.5 354.4L206.3 354.4L202.4 361.6Z" fill="#ff1414"/><path d="M202.1 354.9L209.9 354.9L206.0 362.1Z" fill="#ff1414"/><path d="M215.2 350.4L223.1 350.4L219.2 357.6Z" fill="#ff1414"/><path d="M217.2 351.0L225.1 351.0L221.2 358.2Z" fill="#ff1414"/><path d="M229.7 348.8L237.5 348.8L233.6 356.0Z" fill="#ff1414"/><path d="M234.5 348.0L242.3 348.0L238.4 355.2Z" fill="#ff1414"/><path d="M245.4 344.7L253.2 344.7L249.3 351.9Z" fill="#ff1414"/><path d="M250.1 344.7L257.9 344.7L254.0 351.9Z" fill="#ff1414"/><path d="M252.6 343.9L260.4 343.9L256.5 351.1Z" fill="#ff1414"/><path d="M257.4 342.2L265.2 342.2L261.3 349.4Z" fill="#ff1414"/><path d="M261.1 342.6L268.9 342.6L265.0 349.8Z" fill="#ff1414"/><path d="M264.6 341.6L272.4 341.6L268.5 348.8Z" fill="#ff1414"/><path d="M268.1 340.2L275.9 340.2L272.0 347.4Z" fill="#ff1414"/><path d="M271.6 340.6L279.4 340.6L275.5 347.8Z" fill="#ff1414"/><path d="M275.1 338.7L282.9 338.7L279.0 345.9Z" fill="#ff1414"/><path d="M278.6 338.2L286.4 338.2L282.5 345.4Z" fill="#ff1414"/><path d="M282.1 336.7L289.9 336.7L286.0 343.9Z" fill="#ff1414"/><path d="M285.1 336.2L292.9 336.2L289.0 343.4Z" fill="#ff1414"/><path d="M287.4 334.7L295.3 334.7L291.4 341.9Z" fill="#ff1414"/><path d="M288.9 336.4L296.8 336.4L292.8 343.6Z" fill="#ff1414"/><path d="M293.6 332.9L301.5 332.9L297.6 340.1Z" fill="#ff1414"/><path d="M294.9 335.5L302.8 335.5L298.8 342.7Z" fill="#ff1414"/><path d="M297.0 332.7L304.9 332.7L301.0 339.9Z" fill="#ff1414"/><path d="M299.0 334.7L306.9 334.7L302.9 341.9Z" fill="#ff1414"/><path d="M301.9 330.9L309.8 330.9L305.9 338.1Z" fill="#ff1414"/><path d="M303.1 332.8L311.0 332.8L307.0 340.0Z" fill="#ff1414"/><path d="M305.4 329.8L313.3 329.8L309.3 337.0Z" fill="#ff1414"/><path d="M306.2 332.3L314.1 332.3L310.2 339.5Z" fill="#ff1414"/><path d="M308.4 329.0L316.3 329.0L312.3 336.2Z" fill="#ff1414"/><path d="M309.4 331.1L317.3 331.1L313.4 338.3Z" fill="#ff1414"/><path d="M311.3 328.7L319.2 328.7L315.2 335.9Z" fill="#ff1414"/><path d="M312.0 329.7L319.9 329.7L315.9 336.9Z" fill="#ff1414"/><path d="M314.2 328.4L322.1 328.4L318.1 335.6Z" fill="#ff1414"/><path d="M315.1 329.0L323.0 329.0L319.0 336.2Z" fill="#ff1414"/><path d="M316.4 327.2L324.3 327.2L320.3 334.4Z" fill="#ff1414"/><path d="M318.1 328.4L326.0 328.4L322.0 335.6Z" fill="#ff1414"/><path d="M319.7 326.4L327.6 326.4L323.6 333.6Z" fill="#ff1414"/><path d="M321.1 327.7L329.0 327.7L325.0 334.9Z" fill="#ff1414"/><path d="M322.2 326.2L330.1 326.2L326.1 333.4Z" fill="#ff1414"/><path d="M322.9 326.9L330.8 326.9L326.8 334.1Z" fill="#ff1414"/><path d="M324.2 325.2L332.1 325.2L328.2 332.4Z" fill="#ff1414"/><path d="M326.1 325.7L334.0 325.7L330.1 332.9Z" fill="#ff1414"/><path d="M327.5 324.7L335.4 324.7L331.4 331.9Z" fill="#ff1414"/><path d="M328.6 324.8L336.5 324.8L332.6 332.0Z" fill="#ff1414"/><path d="M330.3 324.1L338.2 324.1L334.2 331.3Z" fill="#ff1414"/><path d="M330.9 324.3L338.8 324.3L334.9 331.5Z" fill="#ff1414"/><path d="M332.2 323.4L340.1 323.4L336.2 330.6Z" fill="#ff1414"/><path d="M334.1 324.0L342.0 324.0L338.1 331.2Z" fill="#ff1414"/><path d="M335.1 322.1L343.0 322.1L339.1 329.3Z" fill="#ff1414"/><path d="M336.7 323.0L344.6 323.0L340.7 330.2Z" fill="#ff1414"/><path d="M336.7 321.4L344.6 321.4L340.6 328.6Z" fill="#ff1414"/><path d="M338.6 322.2L346.5 322.2L342.6 329.4Z" fill="#ff1414"/><path d="M339.4 321.1L347.3 321.1L343.3 328.3Z" fill="#ff1414"/><path d="M340.3 322.1L348.2 322.1L344.2 329.3Z" fill="#ff1414"/><path d="M341.9 320.7L349.8 320.7L345.8 327.9Z" fill="#ff1414"/><path d="M342.6 321.4L350.5 321.4L346.5 328.6Z" fill="#ff1414"/><path d="M343.3 319.8L351.2 319.8L347.2 327.0Z" fill="#ff1414"/><path d="M344.2 320.4L352.1 320.4L348.1 327.6Z" fill="#ff1414"/><path d="M344.2 319.9L352.1 319.9L348.2 327.1Z" fill="#ff1414"/><path d="M346.0 320.5L353.9 320.5L349.9 327.7Z" fill="#ff1414"/><path d="M346.6 319.5L354.5 319.5L350.5 326.7Z" fill="#ff1414"/><path d="M348.0 319.4L355.9 319.4L351.9 326.6Z" fill="#ff1414"/><path d="M348.2 318.4L356.1 318.4L352.1 325.6Z" fill="#ff1414"/><path d="M349.2 319.2L357.1 319.2L353.1 326.4Z" fill="#ff1414"/><path d="M349.0 318.3L356.9 318.3L353.0 325.5Z" fill="#ff1414"/><path d="M350.7 319.0L358.6 319.0L354.7 326.2Z" fill="#ff1414"/><path d="M351.4 317.4L359.3 317.4L355.4 324.6Z" fill="#ff1414"/><path d="M352.3 317.8L360.2 317.8L356.3 325.0Z" fill="#ff1414"/><path d="M352.1 317.2L360.0 317.2L356.0 324.4Z" fill="#ff1414"/><path d="M353.9 318.1L361.8 318.1L357.8 325.3Z" fill="#ff1414"/><path d="M354.3 317.1L362.2 317.1L358.2 324.3Z" fill="#ff1414"/><path d="M355.4 317.3L363.3 317.3L359.3 324.5Z" fill="#ff1414"/><path d="M355.8 316.3L363.7 316.3L359.7 323.5Z" fill="#ff1414"/><path d="M356.9 316.8L364.8 316.8L360.9 324.0Z" fill="#ff1414"/><path d="M140.1 374.4L147.9 374.4L144.0 381.6Z" fill="#ff1414"/><path d="M156.1 369.6L163.9 369.6L160.0 376.8Z" fill="#ff1414"/><path d="M175.1 364.8L182.9 364.8L179.0 372.0Z" fill="#ff1414"/><path d="M273.1 338.6L280.9 338.6L277.0 345.8Z" fill="#ff1414"/><path d="M281.1 336.6L288.9 336.6L285.0 343.8Z" fill="#ff1414"/><path d="M288.5 336.8L296.4 336.8L292.4 344.0Z" fill="#ff1414"/><path d="M293.7 335.2L301.6 335.2L297.6 342.4Z" fill="#ff1414"/><path d="M297.2 334.4L305.1 334.4L301.1 341.6Z" fill="#ff1414"/><path d="M301.7 333.0L309.6 333.0L305.7 340.2Z" fill="#ff1414"/><path d="M304.8 332.1L312.7 332.1L308.8 339.3Z" fill="#ff1414"/><path d="M308.0 331.2L315.9 331.2L311.9 338.4Z" fill="#ff1414"/><path d="M311.5 330.2L319.4 330.2L315.5 337.4Z" fill="#ff1414"/><path d="M313.7 330.2L321.6 330.2L317.7 337.4Z" fill="#ff1414"/><path d="M317.2 329.4L325.1 329.4L321.2 336.6Z" fill="#ff1414"/><path d="M319.9 328.0L327.8 328.0L323.9 335.2Z" fill="#ff1414"/><path d="M322.7 327.1L330.6 327.1L326.6 334.3Z" fill="#ff1414"/><path d="M325.1 326.4L333.0 326.4L329.0 333.6Z" fill="#ff1414"/><path d="M328.1 325.7L336.0 325.7L332.0 332.9Z" fill="#ff1414"/><path d="M330.8 325.0L338.7 325.0L334.7 332.2Z" fill="#ff1414"/><path d="M332.6 324.6L340.5 324.6L336.5 331.8Z" fill="#ff1414"/><path d="M335.2 323.6L343.1 323.6L339.1 330.8Z" fill="#ff1414"/><path d="M337.2 323.0L345.1 323.0L341.1 330.2Z" fill="#ff1414"/><path d="M339.2 322.8L347.1 322.8L343.2 330.0Z" fill="#ff1414"/><path d="M341.7 321.7L349.6 321.7L345.7 328.9Z" fill="#ff1414"/><path d="M343.6 321.8L351.5 321.8L347.6 329.0Z" fill="#ff1414"/><path d="M344.8 321.1L352.7 321.1L348.8 328.3Z" fill="#ff1414"/><path d="M346.5 321.0L354.4 321.0L350.4 328.2Z" fill="#ff1414"/><path d="M348.1 319.6L356.0 319.6L352.1 326.8Z" fill="#ff1414"/><path d="M349.4 320.0L357.3 320.0L353.4 327.2Z" fill="#ff1414"/><path d="M351.5 319.0L359.4 319.0L355.5 326.2Z" fill="#ff1414"/><path d="M353.0 318.4L360.9 318.4L356.9 325.6Z" fill="#ff1414"/><path d="M354.4 318.6L362.3 318.6L358.4 325.8Z" fill="#ff1414"/><path d="M356.4 317.3L364.3 317.3L360.4 324.5Z" fill="#ff1414"/></g>
</svg></body></html>
